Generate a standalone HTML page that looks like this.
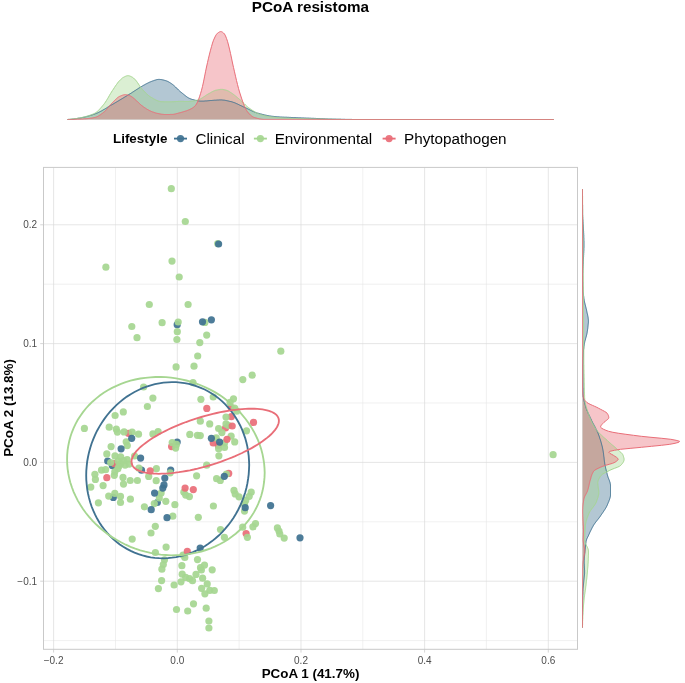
<!DOCTYPE html>
<html lang="en"><head><meta charset="utf-8"><title>PCoA resistoma</title>
<style>html,body{margin:0;padding:0;background:#fff}body{width:685px;height:683px;overflow:hidden}svg{display:block}text{font-family:"Liberation Sans",Arial,Helvetica,sans-serif}.tk{font-size:10px;fill:#4d4d4d}.b{font-weight:bold;fill:#000}.lg{font-size:15.25px;fill:#000}</style></head><body>
<svg width="685" height="683" viewBox="0 0 685 683">
<rect width="685" height="683" fill="#fff"/>
<text class="b" x="310.4" y="11.6" text-anchor="middle" font-size="15.25">PCoA resistoma</text>
<g stroke-linejoin="round" stroke-linecap="butt">
<path d="M67.5 119.5 L68.5 119.4 L69.5 119.4 L70.5 119.3 L71.5 119.2 L72.5 119.1 L73.5 119.0 L74.5 118.8 L75.5 118.7 L76.5 118.6 L77.5 118.4 L78.5 118.2 L79.5 118.1 L80.5 117.9 L81.5 117.7 L82.5 117.5 L83.5 117.3 L84.5 117.1 L85.5 116.8 L86.5 116.6 L87.5 116.3 L88.5 116.0 L89.5 115.7 L90.5 115.4 L91.5 115.1 L92.5 114.8 L93.5 114.4 L94.5 114.1 L95.5 113.7 L96.5 113.3 L97.5 112.9 L98.5 112.4 L99.5 111.9 L100.5 111.4 L101.5 110.9 L102.5 110.3 L103.5 109.7 L104.5 109.2 L105.5 108.6 L106.5 108.0 L107.5 107.3 L108.5 106.7 L109.5 106.1 L110.5 105.5 L111.5 104.9 L112.5 104.4 L113.5 103.8 L114.5 103.2 L115.5 102.6 L116.5 102.0 L117.5 101.4 L118.5 100.8 L119.5 100.2 L120.5 99.6 L121.5 99.0 L122.5 98.4 L123.5 97.8 L124.5 97.2 L125.5 96.6 L126.5 96.0 L127.5 95.3 L128.5 94.7 L129.5 94.1 L130.5 93.5 L131.5 92.9 L132.5 92.2 L133.5 91.6 L134.5 90.9 L135.5 90.3 L136.5 89.6 L137.5 89.0 L138.5 88.3 L139.5 87.7 L140.5 87.1 L141.5 86.5 L142.5 85.9 L143.5 85.3 L144.5 84.8 L145.5 84.2 L146.5 83.7 L147.5 83.2 L148.5 82.7 L149.5 82.2 L150.5 81.8 L151.5 81.4 L152.5 81.0 L153.5 80.7 L154.5 80.3 L155.5 80.0 L156.5 79.7 L157.5 79.5 L158.5 79.4 L159.5 79.4 L160.5 79.5 L161.5 79.6 L162.5 79.8 L163.5 80.0 L164.5 80.3 L165.5 80.6 L166.5 80.9 L167.5 81.3 L168.5 81.8 L169.5 82.4 L170.5 83.0 L171.5 83.7 L172.5 84.4 L173.5 85.2 L174.5 86.1 L175.5 87.0 L176.5 88.0 L177.5 89.0 L178.5 90.0 L179.5 90.9 L180.5 91.8 L181.5 92.6 L182.5 93.4 L183.5 94.2 L184.5 95.0 L185.5 95.8 L186.5 96.6 L187.5 97.3 L188.5 97.9 L189.5 98.4 L190.5 98.8 L191.5 99.2 L192.5 99.5 L193.5 99.7 L194.5 100.0 L195.5 100.3 L196.5 100.5 L197.5 100.7 L198.5 100.9 L199.5 101.0 L200.5 101.1 L201.5 101.1 L202.5 101.1 L203.5 101.1 L204.5 101.0 L205.5 100.9 L206.5 100.9 L207.5 100.8 L208.5 100.7 L209.5 100.6 L210.5 100.5 L211.5 100.5 L212.5 100.4 L213.5 100.3 L214.5 100.2 L215.5 100.2 L216.5 100.1 L217.5 100.0 L218.5 100.0 L219.5 99.9 L220.5 99.9 L221.5 99.9 L222.5 100.0 L223.5 100.1 L224.5 100.2 L225.5 100.4 L226.5 100.6 L227.5 100.8 L228.5 101.0 L229.5 101.3 L230.5 101.5 L231.5 101.7 L232.5 102.0 L233.5 102.4 L234.5 102.7 L235.5 103.1 L236.5 103.6 L237.5 104.0 L238.5 104.5 L239.5 105.0 L240.5 105.5 L241.5 105.9 L242.5 106.4 L243.5 106.9 L244.5 107.3 L245.5 107.8 L246.5 108.2 L247.5 108.7 L248.5 109.2 L249.5 109.7 L250.5 110.2 L251.5 110.7 L252.5 111.2 L253.5 111.6 L254.5 112.0 L255.5 112.4 L256.5 112.8 L257.5 113.1 L258.5 113.3 L259.5 113.6 L260.5 113.9 L261.5 114.1 L262.5 114.4 L263.5 114.6 L264.5 114.9 L265.5 115.1 L266.5 115.3 L267.5 115.5 L268.5 115.7 L269.5 115.9 L270.5 116.0 L271.5 116.2 L272.5 116.3 L273.5 116.4 L274.5 116.5 L275.5 116.6 L276.5 116.7 L277.5 116.8 L278.5 116.8 L279.5 116.9 L280.5 117.0 L281.5 117.0 L282.5 117.1 L283.5 117.1 L284.5 117.2 L285.5 117.2 L286.5 117.2 L287.5 117.3 L288.5 117.3 L289.5 117.4 L290.5 117.4 L291.5 117.5 L292.5 117.5 L293.5 117.6 L294.5 117.6 L295.5 117.6 L296.5 117.7 L297.5 117.7 L298.5 117.8 L299.5 117.8 L300.5 117.8 L301.5 117.9 L302.5 117.9 L303.5 117.9 L304.5 118.0 L305.5 118.0 L306.5 118.1 L307.5 118.1 L308.5 118.1 L309.5 118.2 L310.5 118.2 L311.5 118.3 L312.5 118.3 L313.5 118.3 L314.5 118.4 L315.5 118.4 L316.5 118.5 L317.5 118.5 L318.5 118.6 L319.5 118.6 L320.5 118.7 L321.5 118.7 L322.5 118.7 L323.5 118.8 L324.5 118.8 L325.5 118.9 L326.5 118.9 L327.5 118.9 L328.5 119.0 L329.5 119.0 L330.5 119.0 L331.5 119.0 L332.5 119.1 L333.5 119.1 L334.5 119.1 L335.5 119.1 L336.5 119.2 L337.5 119.2 L338.5 119.2 L339.5 119.2 L340.5 119.2 L341.5 119.3 L342.5 119.3 L343.5 119.3 L344.5 119.3 L345.5 119.4 L346.5 119.4 L347.5 119.4 L348.5 119.4 L349.5 119.4 L350.5 119.4 L351.5 119.4 L352.5 119.5 L353.5 119.5 L354.5 119.5 L355.5 119.5 L356.5 119.5 L357.5 119.5 L358.5 119.5 L359.5 119.5 L360.5 119.5 L361.5 119.5 L362.5 119.5 L363.5 119.5 L364.5 119.5 L365.5 119.5 L366.5 119.5 L367.5 119.5 L368.5 119.5 L369.5 119.5 L370.5 119.5 L371.5 119.5 L372.5 119.5 L373.5 119.5 L374.5 119.5 L375.5 119.5 L376.5 119.5 L377.5 119.5 L378.5 119.5 L379.5 119.5 L380.5 119.5 L381.5 119.5 L382.5 119.5 L383.5 119.5 L384.5 119.5 L385.5 119.5 L386.5 119.5 L387.5 119.5 L388.5 119.5 L389.5 119.5 L390.5 119.5 L391.5 119.5 L392.5 119.5 L393.5 119.5 L394.5 119.5 L395.5 119.5 L396.5 119.5 L397.5 119.5 L398.5 119.5 L399.5 119.5 L400.5 119.5 L401.5 119.5 L402.5 119.5 L403.5 119.5 L404.5 119.5 L405.5 119.5 L406.5 119.5 L407.5 119.5 L408.5 119.5 L409.5 119.5 L410.5 119.5 L411.5 119.5 L412.5 119.5 L413.5 119.5 L414.5 119.5 L415.5 119.5 L416.5 119.5 L417.5 119.5 L418.5 119.5 L419.5 119.5 L420.5 119.5 L421.5 119.5 L422.5 119.5 L423.5 119.5 L424.5 119.5 L425.5 119.5 L426.5 119.5 L427.5 119.5 L428.5 119.5 L429.5 119.5 L430.5 119.5 L431.5 119.5 L432.5 119.5 L433.5 119.5 L434.5 119.5 L435.5 119.5 L436.5 119.5 L437.5 119.5 L438.5 119.5 L439.5 119.5 L440.5 119.5 L441.5 119.5 L442.5 119.5 L443.5 119.5 L444.5 119.5 L445.5 119.5 L446.5 119.5 L447.5 119.5 L448.5 119.5 L449.5 119.5 L450.5 119.5 L451.5 119.5 L452.5 119.5 L453.5 119.5 L454.5 119.5 L455.5 119.5 L456.5 119.5 L457.5 119.5 L458.5 119.5 L459.5 119.5 L460.5 119.5 L461.5 119.5 L462.5 119.5 L463.5 119.5 L464.5 119.5 L465.5 119.5 L466.5 119.5 L467.5 119.5 L468.5 119.5 L469.5 119.5 L470.5 119.5 L471.5 119.5 L472.5 119.5 L473.5 119.5 L474.5 119.5 L475.5 119.5 L476.5 119.5 L477.5 119.5 L478.5 119.5 L479.5 119.5 L480.5 119.5 L481.5 119.5 L482.5 119.5 L483.5 119.5 L484.5 119.5 L485.5 119.5 L486.5 119.5 L487.5 119.5 L488.5 119.5 L489.5 119.5 L490.5 119.5 L491.5 119.5 L492.5 119.5 L493.5 119.5 L494.5 119.5 L495.5 119.5 L496.5 119.5 L497.5 119.5 L498.5 119.5 L499.5 119.5 L500.5 119.5 L501.5 119.5 L502.5 119.5 L503.5 119.5 L504.5 119.5 L505.5 119.5 L506.5 119.5 L507.5 119.5 L508.5 119.5 L509.5 119.5 L510.5 119.5 L511.5 119.5 L512.5 119.5 L513.5 119.5 L514.5 119.5 L515.5 119.5 L516.5 119.5 L517.5 119.5 L518.5 119.5 L519.5 119.5 L520.5 119.5 L521.5 119.5 L522.5 119.5 L523.5 119.5 L524.5 119.5 L525.5 119.5 L526.5 119.5 L527.5 119.5 L528.5 119.5 L529.5 119.5 L530.5 119.5 L531.5 119.5 L532.5 119.5 L533.5 119.5 L534.5 119.5 L535.5 119.5 L536.5 119.5 L537.5 119.5 L538.5 119.5 L539.5 119.5 L540.5 119.5 L541.5 119.5 L542.5 119.5 L543.5 119.5 L544.5 119.5 L545.5 119.5 L546.5 119.5 L547.5 119.5 L548.5 119.5 L549.5 119.5 L550.5 119.5 L551.5 119.5 L552.5 119.5 L553.5 119.5 L553.7 119.5 L553.7 119.5 L67.5 119.5Z" fill="#407291" fill-opacity="0.4" stroke="none"/>
<path d="M67.5 119.5 L68.5 119.4 L69.5 119.3 L70.5 119.2 L71.5 119.1 L72.5 119.0 L73.5 118.9 L74.5 118.7 L75.5 118.6 L76.5 118.5 L77.5 118.3 L78.5 118.1 L79.5 118.0 L80.5 117.8 L81.5 117.6 L82.5 117.3 L83.5 117.1 L84.5 116.9 L85.5 116.6 L86.5 116.3 L87.5 116.1 L88.5 115.8 L89.5 115.4 L90.5 115.1 L91.5 114.7 L92.5 114.3 L93.5 113.9 L94.5 113.4 L95.5 112.8 L96.5 112.1 L97.5 111.3 L98.5 110.4 L99.5 109.3 L100.5 108.2 L101.5 107.1 L102.5 105.9 L103.5 104.7 L104.5 103.4 L105.5 102.0 L106.5 100.4 L107.5 98.8 L108.5 97.1 L109.5 95.3 L110.5 93.6 L111.5 92.0 L112.5 90.4 L113.5 89.0 L114.5 87.4 L115.5 85.9 L116.5 84.5 L117.5 83.1 L118.5 81.8 L119.5 80.7 L120.5 79.7 L121.5 78.8 L122.5 77.9 L123.5 77.3 L124.5 76.8 L125.5 76.3 L126.5 75.9 L127.5 75.7 L128.5 75.7 L129.5 75.9 L130.5 76.3 L131.5 76.8 L132.5 77.3 L133.5 78.0 L134.5 79.0 L135.5 80.0 L136.5 81.2 L137.5 82.6 L138.5 84.1 L139.5 85.6 L140.5 87.1 L141.5 88.4 L142.5 89.6 L143.5 90.7 L144.5 91.7 L145.5 92.8 L146.5 93.7 L147.5 94.6 L148.5 95.5 L149.5 96.3 L150.5 96.9 L151.5 97.5 L152.5 98.1 L153.5 98.7 L154.5 99.3 L155.5 99.8 L156.5 100.3 L157.5 100.7 L158.5 101.1 L159.5 101.4 L160.5 101.6 L161.5 101.7 L162.5 101.7 L163.5 101.7 L164.5 101.8 L165.5 101.8 L166.5 101.8 L167.5 101.8 L168.5 101.8 L169.5 101.8 L170.5 101.8 L171.5 101.8 L172.5 101.7 L173.5 101.7 L174.5 101.6 L175.5 101.6 L176.5 101.5 L177.5 101.5 L178.5 101.4 L179.5 101.4 L180.5 101.4 L181.5 101.4 L182.5 101.4 L183.5 101.4 L184.5 101.5 L185.5 101.5 L186.5 101.5 L187.5 101.5 L188.5 101.5 L189.5 101.4 L190.5 101.3 L191.5 101.2 L192.5 101.1 L193.5 100.9 L194.5 100.7 L195.5 100.5 L196.5 100.3 L197.5 100.0 L198.5 99.8 L199.5 99.4 L200.5 98.9 L201.5 98.3 L202.5 97.7 L203.5 97.0 L204.5 96.4 L205.5 95.7 L206.5 95.0 L207.5 94.4 L208.5 93.8 L209.5 93.3 L210.5 92.7 L211.5 92.1 L212.5 91.6 L213.5 91.1 L214.5 90.7 L215.5 90.3 L216.5 90.1 L217.5 89.9 L218.5 89.7 L219.5 89.6 L220.5 89.4 L221.5 89.4 L222.5 89.4 L223.5 89.6 L224.5 89.8 L225.5 90.0 L226.5 90.3 L227.5 90.7 L228.5 91.1 L229.5 91.7 L230.5 92.4 L231.5 93.0 L232.5 93.7 L233.5 94.4 L234.5 95.2 L235.5 96.0 L236.5 96.8 L237.5 97.7 L238.5 98.5 L239.5 99.4 L240.5 100.2 L241.5 101.1 L242.5 102.1 L243.5 103.1 L244.5 104.0 L245.5 105.0 L246.5 105.9 L247.5 106.8 L248.5 107.6 L249.5 108.3 L250.5 109.0 L251.5 109.7 L252.5 110.4 L253.5 111.0 L254.5 111.7 L255.5 112.3 L256.5 112.8 L257.5 113.4 L258.5 113.8 L259.5 114.3 L260.5 114.6 L261.5 114.9 L262.5 115.2 L263.5 115.4 L264.5 115.7 L265.5 115.9 L266.5 116.1 L267.5 116.3 L268.5 116.5 L269.5 116.7 L270.5 116.8 L271.5 117.0 L272.5 117.1 L273.5 117.2 L274.5 117.3 L275.5 117.4 L276.5 117.5 L277.5 117.6 L278.5 117.7 L279.5 117.8 L280.5 117.8 L281.5 117.9 L282.5 117.9 L283.5 118.0 L284.5 118.1 L285.5 118.1 L286.5 118.2 L287.5 118.2 L288.5 118.2 L289.5 118.3 L290.5 118.3 L291.5 118.4 L292.5 118.4 L293.5 118.4 L294.5 118.5 L295.5 118.5 L296.5 118.5 L297.5 118.6 L298.5 118.6 L299.5 118.6 L300.5 118.7 L301.5 118.7 L302.5 118.7 L303.5 118.7 L304.5 118.8 L305.5 118.8 L306.5 118.8 L307.5 118.8 L308.5 118.9 L309.5 118.9 L310.5 118.9 L311.5 118.9 L312.5 119.0 L313.5 119.0 L314.5 119.0 L315.5 119.0 L316.5 119.0 L317.5 119.1 L318.5 119.1 L319.5 119.1 L320.5 119.1 L321.5 119.1 L322.5 119.1 L323.5 119.2 L324.5 119.2 L325.5 119.2 L326.5 119.2 L327.5 119.2 L328.5 119.3 L329.5 119.3 L330.5 119.3 L331.5 119.3 L332.5 119.3 L333.5 119.3 L334.5 119.4 L335.5 119.4 L336.5 119.4 L337.5 119.4 L338.5 119.4 L339.5 119.4 L340.5 119.4 L341.5 119.5 L342.5 119.5 L343.5 119.5 L344.5 119.5 L345.5 119.5 L346.5 119.5 L347.5 119.5 L348.5 119.5 L349.5 119.5 L350.5 119.5 L351.5 119.5 L352.5 119.5 L353.5 119.5 L354.5 119.5 L355.5 119.5 L356.5 119.5 L357.5 119.5 L358.5 119.5 L359.5 119.5 L360.5 119.5 L361.5 119.5 L362.5 119.5 L363.5 119.5 L364.5 119.5 L365.5 119.5 L366.5 119.5 L367.5 119.5 L368.5 119.5 L369.5 119.5 L370.5 119.5 L371.5 119.5 L372.5 119.5 L373.5 119.5 L374.5 119.5 L375.5 119.5 L376.5 119.5 L377.5 119.5 L378.5 119.5 L379.5 119.5 L380.5 119.5 L381.5 119.5 L382.5 119.5 L383.5 119.5 L384.5 119.5 L385.5 119.5 L386.5 119.5 L387.5 119.5 L388.5 119.5 L389.5 119.5 L390.5 119.5 L391.5 119.5 L392.5 119.5 L393.5 119.5 L394.5 119.5 L395.5 119.5 L396.5 119.5 L397.5 119.5 L398.5 119.5 L399.5 119.5 L400.5 119.5 L401.5 119.5 L402.5 119.5 L403.5 119.5 L404.5 119.5 L405.5 119.5 L406.5 119.5 L407.5 119.5 L408.5 119.5 L409.5 119.5 L410.5 119.5 L411.5 119.5 L412.5 119.5 L413.5 119.5 L414.5 119.5 L415.5 119.5 L416.5 119.5 L417.5 119.5 L418.5 119.5 L419.5 119.5 L420.5 119.5 L421.5 119.5 L422.5 119.5 L423.5 119.5 L424.5 119.5 L425.5 119.5 L426.5 119.5 L427.5 119.5 L428.5 119.5 L429.5 119.5 L430.5 119.5 L431.5 119.5 L432.5 119.5 L433.5 119.5 L434.5 119.5 L435.5 119.5 L436.5 119.5 L437.5 119.5 L438.5 119.5 L439.5 119.5 L440.5 119.5 L441.5 119.5 L442.5 119.5 L443.5 119.5 L444.5 119.5 L445.5 119.5 L446.5 119.5 L447.5 119.5 L448.5 119.5 L449.5 119.5 L450.5 119.5 L451.5 119.5 L452.5 119.5 L453.5 119.5 L454.5 119.5 L455.5 119.5 L456.5 119.5 L457.5 119.5 L458.5 119.5 L459.5 119.5 L460.5 119.5 L461.5 119.5 L462.5 119.5 L463.5 119.5 L464.5 119.5 L465.5 119.5 L466.5 119.5 L467.5 119.5 L468.5 119.5 L469.5 119.5 L470.5 119.5 L471.5 119.5 L472.5 119.5 L473.5 119.5 L474.5 119.5 L475.5 119.5 L476.5 119.5 L477.5 119.5 L478.5 119.5 L479.5 119.5 L480.5 119.5 L481.5 119.5 L482.5 119.5 L483.5 119.5 L484.5 119.5 L485.5 119.5 L486.5 119.5 L487.5 119.5 L488.5 119.5 L489.5 119.5 L490.5 119.5 L491.5 119.5 L492.5 119.5 L493.5 119.5 L494.5 119.5 L495.5 119.5 L496.5 119.5 L497.5 119.5 L498.5 119.5 L499.5 119.5 L500.5 119.5 L501.5 119.5 L502.5 119.5 L503.5 119.5 L504.5 119.5 L505.5 119.5 L506.5 119.5 L507.5 119.5 L508.5 119.5 L509.5 119.5 L510.5 119.5 L511.5 119.5 L512.5 119.5 L513.5 119.5 L514.5 119.5 L515.5 119.5 L516.5 119.5 L517.5 119.5 L518.5 119.5 L519.5 119.5 L520.5 119.5 L521.5 119.5 L522.5 119.5 L523.5 119.5 L524.5 119.5 L525.5 119.5 L526.5 119.5 L527.5 119.5 L528.5 119.5 L529.5 119.5 L530.5 119.5 L531.5 119.5 L532.5 119.5 L533.5 119.5 L534.5 119.5 L535.5 119.5 L536.5 119.5 L537.5 119.5 L538.5 119.5 L539.5 119.5 L540.5 119.5 L541.5 119.5 L542.5 119.5 L543.5 119.5 L544.5 119.5 L545.5 119.5 L546.5 119.5 L547.5 119.5 L548.5 119.5 L549.5 119.5 L550.5 119.5 L551.5 119.5 L552.5 119.5 L553.5 119.5 L553.7 119.5 L553.7 119.5 L67.5 119.5Z" fill="#a6d691" fill-opacity="0.4" stroke="none"/>
<path d="M67.5 119.5 L68.5 119.5 L69.5 119.5 L70.5 119.5 L71.5 119.5 L72.5 119.4 L73.5 119.4 L74.5 119.4 L75.5 119.3 L76.5 119.3 L77.5 119.2 L78.5 119.2 L79.5 119.1 L80.5 119.1 L81.5 119.0 L82.5 119.0 L83.5 118.9 L84.5 118.8 L85.5 118.8 L86.5 118.7 L87.5 118.6 L88.5 118.5 L89.5 118.4 L90.5 118.2 L91.5 118.1 L92.5 117.9 L93.5 117.7 L94.5 117.5 L95.5 117.3 L96.5 116.9 L97.5 116.5 L98.5 115.9 L99.5 115.3 L100.5 114.7 L101.5 113.9 L102.5 113.2 L103.5 112.4 L104.5 111.6 L105.5 110.7 L106.5 109.6 L107.5 108.4 L108.5 107.2 L109.5 106.0 L110.5 104.8 L111.5 103.6 L112.5 102.6 L113.5 101.6 L114.5 100.6 L115.5 99.6 L116.5 98.6 L117.5 97.7 L118.5 97.0 L119.5 96.4 L120.5 96.0 L121.5 95.6 L122.5 95.2 L123.5 94.9 L124.5 94.7 L125.5 94.7 L126.5 94.8 L127.5 95.0 L128.5 95.3 L129.5 95.6 L130.5 96.0 L131.5 96.6 L132.5 97.3 L133.5 98.1 L134.5 98.9 L135.5 99.8 L136.5 100.7 L137.5 101.7 L138.5 102.7 L139.5 103.6 L140.5 104.5 L141.5 105.4 L142.5 106.1 L143.5 106.9 L144.5 107.6 L145.5 108.2 L146.5 108.9 L147.5 109.5 L148.5 110.0 L149.5 110.6 L150.5 111.0 L151.5 111.5 L152.5 111.9 L153.5 112.2 L154.5 112.6 L155.5 112.9 L156.5 113.2 L157.5 113.4 L158.5 113.6 L159.5 113.8 L160.5 114.0 L161.5 114.2 L162.5 114.3 L163.5 114.4 L164.5 114.5 L165.5 114.5 L166.5 114.5 L167.5 114.5 L168.5 114.5 L169.5 114.5 L170.5 114.4 L171.5 114.4 L172.5 114.4 L173.5 114.3 L174.5 114.1 L175.5 113.9 L176.5 113.6 L177.5 113.4 L178.5 113.1 L179.5 112.8 L180.5 112.6 L181.5 112.3 L182.5 112.0 L183.5 111.7 L184.5 111.4 L185.5 111.1 L186.5 110.8 L187.5 110.4 L188.5 110.0 L189.5 109.6 L190.5 109.1 L191.5 108.6 L192.5 108.0 L193.5 107.3 L194.5 106.5 L195.5 105.4 L196.5 104.0 L197.5 102.1 L198.5 99.7 L199.5 96.8 L200.5 93.7 L201.5 90.3 L202.5 86.4 L203.5 81.9 L204.5 76.9 L205.5 71.8 L206.5 67.0 L207.5 62.6 L208.5 58.2 L209.5 54.1 L210.5 50.2 L211.5 46.6 L212.5 43.1 L213.5 40.2 L214.5 38.0 L215.5 35.9 L216.5 34.3 L217.5 33.2 L218.5 32.5 L219.5 31.9 L220.5 31.6 L221.5 31.7 L222.5 32.2 L223.5 33.0 L224.5 34.0 L225.5 35.9 L226.5 38.4 L227.5 41.3 L228.5 45.0 L229.5 49.1 L230.5 53.4 L231.5 58.1 L232.5 63.0 L233.5 67.4 L234.5 71.8 L235.5 76.2 L236.5 80.5 L237.5 84.5 L238.5 88.4 L239.5 91.9 L240.5 95.0 L241.5 98.1 L242.5 101.1 L243.5 103.8 L244.5 106.4 L245.5 108.6 L246.5 110.4 L247.5 111.8 L248.5 113.0 L249.5 114.1 L250.5 115.1 L251.5 115.9 L252.5 116.6 L253.5 117.2 L254.5 117.5 L255.5 117.8 L256.5 118.1 L257.5 118.4 L258.5 118.6 L259.5 118.9 L260.5 119.0 L261.5 119.2 L262.5 119.3 L263.5 119.4 L264.5 119.4 L265.5 119.4 L266.5 119.4 L267.5 119.4 L268.5 119.4 L269.5 119.4 L270.5 119.4 L271.5 119.4 L272.5 119.4 L273.5 119.4 L274.5 119.4 L275.5 119.4 L276.5 119.4 L277.5 119.4 L278.5 119.4 L279.5 119.4 L280.5 119.4 L281.5 119.4 L282.5 119.4 L283.5 119.4 L284.5 119.4 L285.5 119.4 L286.5 119.4 L287.5 119.4 L288.5 119.4 L289.5 119.4 L290.5 119.4 L291.5 119.4 L292.5 119.4 L293.5 119.4 L294.5 119.4 L295.5 119.4 L296.5 119.4 L297.5 119.4 L298.5 119.4 L299.5 119.4 L300.5 119.4 L301.5 119.4 L302.5 119.4 L303.5 119.4 L304.5 119.4 L305.5 119.4 L306.5 119.4 L307.5 119.4 L308.5 119.4 L309.5 119.4 L310.5 119.4 L311.5 119.4 L312.5 119.4 L313.5 119.4 L314.5 119.4 L315.5 119.4 L316.5 119.4 L317.5 119.4 L318.5 119.4 L319.5 119.4 L320.5 119.4 L321.5 119.4 L322.5 119.4 L323.5 119.4 L324.5 119.4 L325.5 119.4 L326.5 119.4 L327.5 119.5 L328.5 119.5 L329.5 119.5 L330.5 119.5 L331.5 119.5 L332.5 119.5 L333.5 119.5 L334.5 119.5 L335.5 119.5 L336.5 119.5 L337.5 119.5 L338.5 119.5 L339.5 119.5 L340.5 119.5 L341.5 119.5 L342.5 119.5 L343.5 119.5 L344.5 119.5 L345.5 119.5 L346.5 119.5 L347.5 119.5 L348.5 119.5 L349.5 119.5 L350.5 119.5 L351.5 119.5 L352.5 119.5 L353.5 119.5 L354.5 119.5 L355.5 119.5 L356.5 119.5 L357.5 119.5 L358.5 119.5 L359.5 119.5 L360.5 119.5 L361.5 119.5 L362.5 119.5 L363.5 119.5 L364.5 119.5 L365.5 119.5 L366.5 119.5 L367.5 119.5 L368.5 119.5 L369.5 119.5 L370.5 119.5 L371.5 119.5 L372.5 119.5 L373.5 119.5 L374.5 119.5 L375.5 119.5 L376.5 119.5 L377.5 119.5 L378.5 119.5 L379.5 119.5 L380.5 119.5 L381.5 119.5 L382.5 119.5 L383.5 119.5 L384.5 119.5 L385.5 119.5 L386.5 119.5 L387.5 119.5 L388.5 119.5 L389.5 119.5 L390.5 119.5 L391.5 119.5 L392.5 119.5 L393.5 119.5 L394.5 119.5 L395.5 119.5 L396.5 119.5 L397.5 119.5 L398.5 119.5 L399.5 119.5 L400.5 119.5 L401.5 119.5 L402.5 119.5 L403.5 119.5 L404.5 119.5 L405.5 119.5 L406.5 119.5 L407.5 119.5 L408.5 119.5 L409.5 119.5 L410.5 119.5 L411.5 119.5 L412.5 119.5 L413.5 119.5 L414.5 119.5 L415.5 119.5 L416.5 119.5 L417.5 119.5 L418.5 119.5 L419.5 119.5 L420.5 119.5 L421.5 119.5 L422.5 119.5 L423.5 119.5 L424.5 119.5 L425.5 119.5 L426.5 119.5 L427.5 119.5 L428.5 119.5 L429.5 119.5 L430.5 119.5 L431.5 119.5 L432.5 119.5 L433.5 119.5 L434.5 119.5 L435.5 119.5 L436.5 119.5 L437.5 119.5 L438.5 119.5 L439.5 119.5 L440.5 119.5 L441.5 119.5 L442.5 119.5 L443.5 119.5 L444.5 119.5 L445.5 119.5 L446.5 119.5 L447.5 119.5 L448.5 119.5 L449.5 119.5 L450.5 119.5 L451.5 119.5 L452.5 119.5 L453.5 119.5 L454.5 119.5 L455.5 119.5 L456.5 119.5 L457.5 119.5 L458.5 119.5 L459.5 119.5 L460.5 119.5 L461.5 119.5 L462.5 119.5 L463.5 119.5 L464.5 119.5 L465.5 119.5 L466.5 119.5 L467.5 119.5 L468.5 119.5 L469.5 119.5 L470.5 119.5 L471.5 119.5 L472.5 119.5 L473.5 119.5 L474.5 119.5 L475.5 119.5 L476.5 119.5 L477.5 119.5 L478.5 119.5 L479.5 119.5 L480.5 119.5 L481.5 119.5 L482.5 119.5 L483.5 119.5 L484.5 119.5 L485.5 119.5 L486.5 119.5 L487.5 119.5 L488.5 119.5 L489.5 119.5 L490.5 119.5 L491.5 119.5 L492.5 119.5 L493.5 119.5 L494.5 119.5 L495.5 119.5 L496.5 119.5 L497.5 119.5 L498.5 119.5 L499.5 119.5 L500.5 119.5 L501.5 119.5 L502.5 119.5 L503.5 119.5 L504.5 119.5 L505.5 119.5 L506.5 119.5 L507.5 119.5 L508.5 119.5 L509.5 119.5 L510.5 119.5 L511.5 119.5 L512.5 119.5 L513.5 119.5 L514.5 119.5 L515.5 119.5 L516.5 119.5 L517.5 119.5 L518.5 119.5 L519.5 119.5 L520.5 119.5 L521.5 119.5 L522.5 119.5 L523.5 119.5 L524.5 119.5 L525.5 119.5 L526.5 119.5 L527.5 119.5 L528.5 119.5 L529.5 119.5 L530.5 119.5 L531.5 119.5 L532.5 119.5 L533.5 119.5 L534.5 119.5 L535.5 119.5 L536.5 119.5 L537.5 119.5 L538.5 119.5 L539.5 119.5 L540.5 119.5 L541.5 119.5 L542.5 119.5 L543.5 119.5 L544.5 119.5 L545.5 119.5 L546.5 119.5 L547.5 119.5 L548.5 119.5 L549.5 119.5 L550.5 119.5 L551.5 119.5 L552.5 119.5 L553.5 119.5 L553.7 119.5 L553.7 119.5 L67.5 119.5Z" fill="#e96e78" fill-opacity="0.4" stroke="none"/>
<path d="M67.5 119.5 L68.5 119.4 L69.5 119.4 L70.5 119.3 L71.5 119.2 L72.5 119.1 L73.5 119.0 L74.5 118.8 L75.5 118.7 L76.5 118.6 L77.5 118.4 L78.5 118.2 L79.5 118.1 L80.5 117.9 L81.5 117.7 L82.5 117.5 L83.5 117.3 L84.5 117.1 L85.5 116.8 L86.5 116.6 L87.5 116.3 L88.5 116.0 L89.5 115.7 L90.5 115.4 L91.5 115.1 L92.5 114.8 L93.5 114.4 L94.5 114.1 L95.5 113.7 L96.5 113.3 L97.5 112.9 L98.5 112.4 L99.5 111.9 L100.5 111.4 L101.5 110.9 L102.5 110.3 L103.5 109.7 L104.5 109.2 L105.5 108.6 L106.5 108.0 L107.5 107.3 L108.5 106.7 L109.5 106.1 L110.5 105.5 L111.5 104.9 L112.5 104.4 L113.5 103.8 L114.5 103.2 L115.5 102.6 L116.5 102.0 L117.5 101.4 L118.5 100.8 L119.5 100.2 L120.5 99.6 L121.5 99.0 L122.5 98.4 L123.5 97.8 L124.5 97.2 L125.5 96.6 L126.5 96.0 L127.5 95.3 L128.5 94.7 L129.5 94.1 L130.5 93.5 L131.5 92.9 L132.5 92.2 L133.5 91.6 L134.5 90.9 L135.5 90.3 L136.5 89.6 L137.5 89.0 L138.5 88.3 L139.5 87.7 L140.5 87.1 L141.5 86.5 L142.5 85.9 L143.5 85.3 L144.5 84.8 L145.5 84.2 L146.5 83.7 L147.5 83.2 L148.5 82.7 L149.5 82.2 L150.5 81.8 L151.5 81.4 L152.5 81.0 L153.5 80.7 L154.5 80.3 L155.5 80.0 L156.5 79.7 L157.5 79.5 L158.5 79.4 L159.5 79.4 L160.5 79.5 L161.5 79.6 L162.5 79.8 L163.5 80.0 L164.5 80.3 L165.5 80.6 L166.5 80.9 L167.5 81.3 L168.5 81.8 L169.5 82.4 L170.5 83.0 L171.5 83.7 L172.5 84.4 L173.5 85.2 L174.5 86.1 L175.5 87.0 L176.5 88.0 L177.5 89.0 L178.5 90.0 L179.5 90.9 L180.5 91.8 L181.5 92.6 L182.5 93.4 L183.5 94.2 L184.5 95.0 L185.5 95.8 L186.5 96.6 L187.5 97.3 L188.5 97.9 L189.5 98.4 L190.5 98.8 L191.5 99.2 L192.5 99.5 L193.5 99.7 L194.5 100.0 L195.5 100.3 L196.5 100.5 L197.5 100.7 L198.5 100.9 L199.5 101.0 L200.5 101.1 L201.5 101.1 L202.5 101.1 L203.5 101.1 L204.5 101.0 L205.5 100.9 L206.5 100.9 L207.5 100.8 L208.5 100.7 L209.5 100.6 L210.5 100.5 L211.5 100.5 L212.5 100.4 L213.5 100.3 L214.5 100.2 L215.5 100.2 L216.5 100.1 L217.5 100.0 L218.5 100.0 L219.5 99.9 L220.5 99.9 L221.5 99.9 L222.5 100.0 L223.5 100.1 L224.5 100.2 L225.5 100.4 L226.5 100.6 L227.5 100.8 L228.5 101.0 L229.5 101.3 L230.5 101.5 L231.5 101.7 L232.5 102.0 L233.5 102.4 L234.5 102.7 L235.5 103.1 L236.5 103.6 L237.5 104.0 L238.5 104.5 L239.5 105.0 L240.5 105.5 L241.5 105.9 L242.5 106.4 L243.5 106.9 L244.5 107.3 L245.5 107.8 L246.5 108.2 L247.5 108.7 L248.5 109.2 L249.5 109.7 L250.5 110.2 L251.5 110.7 L252.5 111.2 L253.5 111.6 L254.5 112.0 L255.5 112.4 L256.5 112.8 L257.5 113.1 L258.5 113.3 L259.5 113.6 L260.5 113.9 L261.5 114.1 L262.5 114.4 L263.5 114.6 L264.5 114.9 L265.5 115.1 L266.5 115.3 L267.5 115.5 L268.5 115.7 L269.5 115.9 L270.5 116.0 L271.5 116.2 L272.5 116.3 L273.5 116.4 L274.5 116.5 L275.5 116.6 L276.5 116.7 L277.5 116.8 L278.5 116.8 L279.5 116.9 L280.5 117.0 L281.5 117.0 L282.5 117.1 L283.5 117.1 L284.5 117.2 L285.5 117.2 L286.5 117.2 L287.5 117.3 L288.5 117.3 L289.5 117.4 L290.5 117.4 L291.5 117.5 L292.5 117.5 L293.5 117.6 L294.5 117.6 L295.5 117.6 L296.5 117.7 L297.5 117.7 L298.5 117.8 L299.5 117.8 L300.5 117.8 L301.5 117.9 L302.5 117.9 L303.5 117.9 L304.5 118.0 L305.5 118.0 L306.5 118.1 L307.5 118.1 L308.5 118.1 L309.5 118.2 L310.5 118.2 L311.5 118.3 L312.5 118.3 L313.5 118.3 L314.5 118.4 L315.5 118.4 L316.5 118.5 L317.5 118.5 L318.5 118.6 L319.5 118.6 L320.5 118.7 L321.5 118.7 L322.5 118.7 L323.5 118.8 L324.5 118.8 L325.5 118.9 L326.5 118.9 L327.5 118.9 L328.5 119.0 L329.5 119.0 L330.5 119.0 L331.5 119.0 L332.5 119.1 L333.5 119.1 L334.5 119.1 L335.5 119.1 L336.5 119.2 L337.5 119.2 L338.5 119.2 L339.5 119.2 L340.5 119.2 L341.5 119.3 L342.5 119.3 L343.5 119.3 L344.5 119.3 L345.5 119.4 L346.5 119.4 L347.5 119.4 L348.5 119.4 L349.5 119.4 L350.5 119.4 L351.5 119.4 L352.5 119.5 L353.5 119.5 L354.5 119.5 L355.5 119.5 L356.5 119.5 L357.5 119.5 L358.5 119.5 L359.5 119.5 L360.5 119.5 L361.5 119.5 L362.5 119.5 L363.5 119.5 L364.5 119.5 L365.5 119.5 L366.5 119.5 L367.5 119.5 L368.5 119.5 L369.5 119.5 L370.5 119.5 L371.5 119.5 L372.5 119.5 L373.5 119.5 L374.5 119.5 L375.5 119.5 L376.5 119.5 L377.5 119.5 L378.5 119.5 L379.5 119.5 L380.5 119.5 L381.5 119.5 L382.5 119.5 L383.5 119.5 L384.5 119.5 L385.5 119.5 L386.5 119.5 L387.5 119.5 L388.5 119.5 L389.5 119.5 L390.5 119.5 L391.5 119.5 L392.5 119.5 L393.5 119.5 L394.5 119.5 L395.5 119.5 L396.5 119.5 L397.5 119.5 L398.5 119.5 L399.5 119.5 L400.5 119.5 L401.5 119.5 L402.5 119.5 L403.5 119.5 L404.5 119.5 L405.5 119.5 L406.5 119.5 L407.5 119.5 L408.5 119.5 L409.5 119.5 L410.5 119.5 L411.5 119.5 L412.5 119.5 L413.5 119.5 L414.5 119.5 L415.5 119.5 L416.5 119.5 L417.5 119.5 L418.5 119.5 L419.5 119.5 L420.5 119.5 L421.5 119.5 L422.5 119.5 L423.5 119.5 L424.5 119.5 L425.5 119.5 L426.5 119.5 L427.5 119.5 L428.5 119.5 L429.5 119.5 L430.5 119.5 L431.5 119.5 L432.5 119.5 L433.5 119.5 L434.5 119.5 L435.5 119.5 L436.5 119.5 L437.5 119.5 L438.5 119.5 L439.5 119.5 L440.5 119.5 L441.5 119.5 L442.5 119.5 L443.5 119.5 L444.5 119.5 L445.5 119.5 L446.5 119.5 L447.5 119.5 L448.5 119.5 L449.5 119.5 L450.5 119.5 L451.5 119.5 L452.5 119.5 L453.5 119.5 L454.5 119.5 L455.5 119.5 L456.5 119.5 L457.5 119.5 L458.5 119.5 L459.5 119.5 L460.5 119.5 L461.5 119.5 L462.5 119.5 L463.5 119.5 L464.5 119.5 L465.5 119.5 L466.5 119.5 L467.5 119.5 L468.5 119.5 L469.5 119.5 L470.5 119.5 L471.5 119.5 L472.5 119.5 L473.5 119.5 L474.5 119.5 L475.5 119.5 L476.5 119.5 L477.5 119.5 L478.5 119.5 L479.5 119.5 L480.5 119.5 L481.5 119.5 L482.5 119.5 L483.5 119.5 L484.5 119.5 L485.5 119.5 L486.5 119.5 L487.5 119.5 L488.5 119.5 L489.5 119.5 L490.5 119.5 L491.5 119.5 L492.5 119.5 L493.5 119.5 L494.5 119.5 L495.5 119.5 L496.5 119.5 L497.5 119.5 L498.5 119.5 L499.5 119.5 L500.5 119.5 L501.5 119.5 L502.5 119.5 L503.5 119.5 L504.5 119.5 L505.5 119.5 L506.5 119.5 L507.5 119.5 L508.5 119.5 L509.5 119.5 L510.5 119.5 L511.5 119.5 L512.5 119.5 L513.5 119.5 L514.5 119.5 L515.5 119.5 L516.5 119.5 L517.5 119.5 L518.5 119.5 L519.5 119.5 L520.5 119.5 L521.5 119.5 L522.5 119.5 L523.5 119.5 L524.5 119.5 L525.5 119.5 L526.5 119.5 L527.5 119.5 L528.5 119.5 L529.5 119.5 L530.5 119.5 L531.5 119.5 L532.5 119.5 L533.5 119.5 L534.5 119.5 L535.5 119.5 L536.5 119.5 L537.5 119.5 L538.5 119.5 L539.5 119.5 L540.5 119.5 L541.5 119.5 L542.5 119.5 L543.5 119.5 L544.5 119.5 L545.5 119.5 L546.5 119.5 L547.5 119.5 L548.5 119.5 L549.5 119.5 L550.5 119.5 L551.5 119.5 L552.5 119.5 L553.5 119.5 L553.7 119.5" fill="none" stroke="#407291" stroke-width="1.0"/>
<path d="M67.5 119.5 L68.5 119.4 L69.5 119.3 L70.5 119.2 L71.5 119.1 L72.5 119.0 L73.5 118.9 L74.5 118.7 L75.5 118.6 L76.5 118.5 L77.5 118.3 L78.5 118.1 L79.5 118.0 L80.5 117.8 L81.5 117.6 L82.5 117.3 L83.5 117.1 L84.5 116.9 L85.5 116.6 L86.5 116.3 L87.5 116.1 L88.5 115.8 L89.5 115.4 L90.5 115.1 L91.5 114.7 L92.5 114.3 L93.5 113.9 L94.5 113.4 L95.5 112.8 L96.5 112.1 L97.5 111.3 L98.5 110.4 L99.5 109.3 L100.5 108.2 L101.5 107.1 L102.5 105.9 L103.5 104.7 L104.5 103.4 L105.5 102.0 L106.5 100.4 L107.5 98.8 L108.5 97.1 L109.5 95.3 L110.5 93.6 L111.5 92.0 L112.5 90.4 L113.5 89.0 L114.5 87.4 L115.5 85.9 L116.5 84.5 L117.5 83.1 L118.5 81.8 L119.5 80.7 L120.5 79.7 L121.5 78.8 L122.5 77.9 L123.5 77.3 L124.5 76.8 L125.5 76.3 L126.5 75.9 L127.5 75.7 L128.5 75.7 L129.5 75.9 L130.5 76.3 L131.5 76.8 L132.5 77.3 L133.5 78.0 L134.5 79.0 L135.5 80.0 L136.5 81.2 L137.5 82.6 L138.5 84.1 L139.5 85.6 L140.5 87.1 L141.5 88.4 L142.5 89.6 L143.5 90.7 L144.5 91.7 L145.5 92.8 L146.5 93.7 L147.5 94.6 L148.5 95.5 L149.5 96.3 L150.5 96.9 L151.5 97.5 L152.5 98.1 L153.5 98.7 L154.5 99.3 L155.5 99.8 L156.5 100.3 L157.5 100.7 L158.5 101.1 L159.5 101.4 L160.5 101.6 L161.5 101.7 L162.5 101.7 L163.5 101.7 L164.5 101.8 L165.5 101.8 L166.5 101.8 L167.5 101.8 L168.5 101.8 L169.5 101.8 L170.5 101.8 L171.5 101.8 L172.5 101.7 L173.5 101.7 L174.5 101.6 L175.5 101.6 L176.5 101.5 L177.5 101.5 L178.5 101.4 L179.5 101.4 L180.5 101.4 L181.5 101.4 L182.5 101.4 L183.5 101.4 L184.5 101.5 L185.5 101.5 L186.5 101.5 L187.5 101.5 L188.5 101.5 L189.5 101.4 L190.5 101.3 L191.5 101.2 L192.5 101.1 L193.5 100.9 L194.5 100.7 L195.5 100.5 L196.5 100.3 L197.5 100.0 L198.5 99.8 L199.5 99.4 L200.5 98.9 L201.5 98.3 L202.5 97.7 L203.5 97.0 L204.5 96.4 L205.5 95.7 L206.5 95.0 L207.5 94.4 L208.5 93.8 L209.5 93.3 L210.5 92.7 L211.5 92.1 L212.5 91.6 L213.5 91.1 L214.5 90.7 L215.5 90.3 L216.5 90.1 L217.5 89.9 L218.5 89.7 L219.5 89.6 L220.5 89.4 L221.5 89.4 L222.5 89.4 L223.5 89.6 L224.5 89.8 L225.5 90.0 L226.5 90.3 L227.5 90.7 L228.5 91.1 L229.5 91.7 L230.5 92.4 L231.5 93.0 L232.5 93.7 L233.5 94.4 L234.5 95.2 L235.5 96.0 L236.5 96.8 L237.5 97.7 L238.5 98.5 L239.5 99.4 L240.5 100.2 L241.5 101.1 L242.5 102.1 L243.5 103.1 L244.5 104.0 L245.5 105.0 L246.5 105.9 L247.5 106.8 L248.5 107.6 L249.5 108.3 L250.5 109.0 L251.5 109.7 L252.5 110.4 L253.5 111.0 L254.5 111.7 L255.5 112.3 L256.5 112.8 L257.5 113.4 L258.5 113.8 L259.5 114.3 L260.5 114.6 L261.5 114.9 L262.5 115.2 L263.5 115.4 L264.5 115.7 L265.5 115.9 L266.5 116.1 L267.5 116.3 L268.5 116.5 L269.5 116.7 L270.5 116.8 L271.5 117.0 L272.5 117.1 L273.5 117.2 L274.5 117.3 L275.5 117.4 L276.5 117.5 L277.5 117.6 L278.5 117.7 L279.5 117.8 L280.5 117.8 L281.5 117.9 L282.5 117.9 L283.5 118.0 L284.5 118.1 L285.5 118.1 L286.5 118.2 L287.5 118.2 L288.5 118.2 L289.5 118.3 L290.5 118.3 L291.5 118.4 L292.5 118.4 L293.5 118.4 L294.5 118.5 L295.5 118.5 L296.5 118.5 L297.5 118.6 L298.5 118.6 L299.5 118.6 L300.5 118.7 L301.5 118.7 L302.5 118.7 L303.5 118.7 L304.5 118.8 L305.5 118.8 L306.5 118.8 L307.5 118.8 L308.5 118.9 L309.5 118.9 L310.5 118.9 L311.5 118.9 L312.5 119.0 L313.5 119.0 L314.5 119.0 L315.5 119.0 L316.5 119.0 L317.5 119.1 L318.5 119.1 L319.5 119.1 L320.5 119.1 L321.5 119.1 L322.5 119.1 L323.5 119.2 L324.5 119.2 L325.5 119.2 L326.5 119.2 L327.5 119.2 L328.5 119.3 L329.5 119.3 L330.5 119.3 L331.5 119.3 L332.5 119.3 L333.5 119.3 L334.5 119.4 L335.5 119.4 L336.5 119.4 L337.5 119.4 L338.5 119.4 L339.5 119.4 L340.5 119.4 L341.5 119.5 L342.5 119.5 L343.5 119.5 L344.5 119.5 L345.5 119.5 L346.5 119.5 L347.5 119.5 L348.5 119.5 L349.5 119.5 L350.5 119.5 L351.5 119.5 L352.5 119.5 L353.5 119.5 L354.5 119.5 L355.5 119.5 L356.5 119.5 L357.5 119.5 L358.5 119.5 L359.5 119.5 L360.5 119.5 L361.5 119.5 L362.5 119.5 L363.5 119.5 L364.5 119.5 L365.5 119.5 L366.5 119.5 L367.5 119.5 L368.5 119.5 L369.5 119.5 L370.5 119.5 L371.5 119.5 L372.5 119.5 L373.5 119.5 L374.5 119.5 L375.5 119.5 L376.5 119.5 L377.5 119.5 L378.5 119.5 L379.5 119.5 L380.5 119.5 L381.5 119.5 L382.5 119.5 L383.5 119.5 L384.5 119.5 L385.5 119.5 L386.5 119.5 L387.5 119.5 L388.5 119.5 L389.5 119.5 L390.5 119.5 L391.5 119.5 L392.5 119.5 L393.5 119.5 L394.5 119.5 L395.5 119.5 L396.5 119.5 L397.5 119.5 L398.5 119.5 L399.5 119.5 L400.5 119.5 L401.5 119.5 L402.5 119.5 L403.5 119.5 L404.5 119.5 L405.5 119.5 L406.5 119.5 L407.5 119.5 L408.5 119.5 L409.5 119.5 L410.5 119.5 L411.5 119.5 L412.5 119.5 L413.5 119.5 L414.5 119.5 L415.5 119.5 L416.5 119.5 L417.5 119.5 L418.5 119.5 L419.5 119.5 L420.5 119.5 L421.5 119.5 L422.5 119.5 L423.5 119.5 L424.5 119.5 L425.5 119.5 L426.5 119.5 L427.5 119.5 L428.5 119.5 L429.5 119.5 L430.5 119.5 L431.5 119.5 L432.5 119.5 L433.5 119.5 L434.5 119.5 L435.5 119.5 L436.5 119.5 L437.5 119.5 L438.5 119.5 L439.5 119.5 L440.5 119.5 L441.5 119.5 L442.5 119.5 L443.5 119.5 L444.5 119.5 L445.5 119.5 L446.5 119.5 L447.5 119.5 L448.5 119.5 L449.5 119.5 L450.5 119.5 L451.5 119.5 L452.5 119.5 L453.5 119.5 L454.5 119.5 L455.5 119.5 L456.5 119.5 L457.5 119.5 L458.5 119.5 L459.5 119.5 L460.5 119.5 L461.5 119.5 L462.5 119.5 L463.5 119.5 L464.5 119.5 L465.5 119.5 L466.5 119.5 L467.5 119.5 L468.5 119.5 L469.5 119.5 L470.5 119.5 L471.5 119.5 L472.5 119.5 L473.5 119.5 L474.5 119.5 L475.5 119.5 L476.5 119.5 L477.5 119.5 L478.5 119.5 L479.5 119.5 L480.5 119.5 L481.5 119.5 L482.5 119.5 L483.5 119.5 L484.5 119.5 L485.5 119.5 L486.5 119.5 L487.5 119.5 L488.5 119.5 L489.5 119.5 L490.5 119.5 L491.5 119.5 L492.5 119.5 L493.5 119.5 L494.5 119.5 L495.5 119.5 L496.5 119.5 L497.5 119.5 L498.5 119.5 L499.5 119.5 L500.5 119.5 L501.5 119.5 L502.5 119.5 L503.5 119.5 L504.5 119.5 L505.5 119.5 L506.5 119.5 L507.5 119.5 L508.5 119.5 L509.5 119.5 L510.5 119.5 L511.5 119.5 L512.5 119.5 L513.5 119.5 L514.5 119.5 L515.5 119.5 L516.5 119.5 L517.5 119.5 L518.5 119.5 L519.5 119.5 L520.5 119.5 L521.5 119.5 L522.5 119.5 L523.5 119.5 L524.5 119.5 L525.5 119.5 L526.5 119.5 L527.5 119.5 L528.5 119.5 L529.5 119.5 L530.5 119.5 L531.5 119.5 L532.5 119.5 L533.5 119.5 L534.5 119.5 L535.5 119.5 L536.5 119.5 L537.5 119.5 L538.5 119.5 L539.5 119.5 L540.5 119.5 L541.5 119.5 L542.5 119.5 L543.5 119.5 L544.5 119.5 L545.5 119.5 L546.5 119.5 L547.5 119.5 L548.5 119.5 L549.5 119.5 L550.5 119.5 L551.5 119.5 L552.5 119.5 L553.5 119.5 L553.7 119.5" fill="none" stroke="#a6d691" stroke-width="1.0"/>
<path d="M67.5 119.5 L68.5 119.5 L69.5 119.5 L70.5 119.5 L71.5 119.5 L72.5 119.4 L73.5 119.4 L74.5 119.4 L75.5 119.3 L76.5 119.3 L77.5 119.2 L78.5 119.2 L79.5 119.1 L80.5 119.1 L81.5 119.0 L82.5 119.0 L83.5 118.9 L84.5 118.8 L85.5 118.8 L86.5 118.7 L87.5 118.6 L88.5 118.5 L89.5 118.4 L90.5 118.2 L91.5 118.1 L92.5 117.9 L93.5 117.7 L94.5 117.5 L95.5 117.3 L96.5 116.9 L97.5 116.5 L98.5 115.9 L99.5 115.3 L100.5 114.7 L101.5 113.9 L102.5 113.2 L103.5 112.4 L104.5 111.6 L105.5 110.7 L106.5 109.6 L107.5 108.4 L108.5 107.2 L109.5 106.0 L110.5 104.8 L111.5 103.6 L112.5 102.6 L113.5 101.6 L114.5 100.6 L115.5 99.6 L116.5 98.6 L117.5 97.7 L118.5 97.0 L119.5 96.4 L120.5 96.0 L121.5 95.6 L122.5 95.2 L123.5 94.9 L124.5 94.7 L125.5 94.7 L126.5 94.8 L127.5 95.0 L128.5 95.3 L129.5 95.6 L130.5 96.0 L131.5 96.6 L132.5 97.3 L133.5 98.1 L134.5 98.9 L135.5 99.8 L136.5 100.7 L137.5 101.7 L138.5 102.7 L139.5 103.6 L140.5 104.5 L141.5 105.4 L142.5 106.1 L143.5 106.9 L144.5 107.6 L145.5 108.2 L146.5 108.9 L147.5 109.5 L148.5 110.0 L149.5 110.6 L150.5 111.0 L151.5 111.5 L152.5 111.9 L153.5 112.2 L154.5 112.6 L155.5 112.9 L156.5 113.2 L157.5 113.4 L158.5 113.6 L159.5 113.8 L160.5 114.0 L161.5 114.2 L162.5 114.3 L163.5 114.4 L164.5 114.5 L165.5 114.5 L166.5 114.5 L167.5 114.5 L168.5 114.5 L169.5 114.5 L170.5 114.4 L171.5 114.4 L172.5 114.4 L173.5 114.3 L174.5 114.1 L175.5 113.9 L176.5 113.6 L177.5 113.4 L178.5 113.1 L179.5 112.8 L180.5 112.6 L181.5 112.3 L182.5 112.0 L183.5 111.7 L184.5 111.4 L185.5 111.1 L186.5 110.8 L187.5 110.4 L188.5 110.0 L189.5 109.6 L190.5 109.1 L191.5 108.6 L192.5 108.0 L193.5 107.3 L194.5 106.5 L195.5 105.4 L196.5 104.0 L197.5 102.1 L198.5 99.7 L199.5 96.8 L200.5 93.7 L201.5 90.3 L202.5 86.4 L203.5 81.9 L204.5 76.9 L205.5 71.8 L206.5 67.0 L207.5 62.6 L208.5 58.2 L209.5 54.1 L210.5 50.2 L211.5 46.6 L212.5 43.1 L213.5 40.2 L214.5 38.0 L215.5 35.9 L216.5 34.3 L217.5 33.2 L218.5 32.5 L219.5 31.9 L220.5 31.6 L221.5 31.7 L222.5 32.2 L223.5 33.0 L224.5 34.0 L225.5 35.9 L226.5 38.4 L227.5 41.3 L228.5 45.0 L229.5 49.1 L230.5 53.4 L231.5 58.1 L232.5 63.0 L233.5 67.4 L234.5 71.8 L235.5 76.2 L236.5 80.5 L237.5 84.5 L238.5 88.4 L239.5 91.9 L240.5 95.0 L241.5 98.1 L242.5 101.1 L243.5 103.8 L244.5 106.4 L245.5 108.6 L246.5 110.4 L247.5 111.8 L248.5 113.0 L249.5 114.1 L250.5 115.1 L251.5 115.9 L252.5 116.6 L253.5 117.2 L254.5 117.5 L255.5 117.8 L256.5 118.1 L257.5 118.4 L258.5 118.6 L259.5 118.9 L260.5 119.0 L261.5 119.2 L262.5 119.3 L263.5 119.4 L264.5 119.4 L265.5 119.4 L266.5 119.4 L267.5 119.4 L268.5 119.4 L269.5 119.4 L270.5 119.4 L271.5 119.4 L272.5 119.4 L273.5 119.4 L274.5 119.4 L275.5 119.4 L276.5 119.4 L277.5 119.4 L278.5 119.4 L279.5 119.4 L280.5 119.4 L281.5 119.4 L282.5 119.4 L283.5 119.4 L284.5 119.4 L285.5 119.4 L286.5 119.4 L287.5 119.4 L288.5 119.4 L289.5 119.4 L290.5 119.4 L291.5 119.4 L292.5 119.4 L293.5 119.4 L294.5 119.4 L295.5 119.4 L296.5 119.4 L297.5 119.4 L298.5 119.4 L299.5 119.4 L300.5 119.4 L301.5 119.4 L302.5 119.4 L303.5 119.4 L304.5 119.4 L305.5 119.4 L306.5 119.4 L307.5 119.4 L308.5 119.4 L309.5 119.4 L310.5 119.4 L311.5 119.4 L312.5 119.4 L313.5 119.4 L314.5 119.4 L315.5 119.4 L316.5 119.4 L317.5 119.4 L318.5 119.4 L319.5 119.4 L320.5 119.4 L321.5 119.4 L322.5 119.4 L323.5 119.4 L324.5 119.4 L325.5 119.4 L326.5 119.4 L327.5 119.5 L328.5 119.5 L329.5 119.5 L330.5 119.5 L331.5 119.5 L332.5 119.5 L333.5 119.5 L334.5 119.5 L335.5 119.5 L336.5 119.5 L337.5 119.5 L338.5 119.5 L339.5 119.5 L340.5 119.5 L341.5 119.5 L342.5 119.5 L343.5 119.5 L344.5 119.5 L345.5 119.5 L346.5 119.5 L347.5 119.5 L348.5 119.5 L349.5 119.5 L350.5 119.5 L351.5 119.5 L352.5 119.5 L353.5 119.5 L354.5 119.5 L355.5 119.5 L356.5 119.5 L357.5 119.5 L358.5 119.5 L359.5 119.5 L360.5 119.5 L361.5 119.5 L362.5 119.5 L363.5 119.5 L364.5 119.5 L365.5 119.5 L366.5 119.5 L367.5 119.5 L368.5 119.5 L369.5 119.5 L370.5 119.5 L371.5 119.5 L372.5 119.5 L373.5 119.5 L374.5 119.5 L375.5 119.5 L376.5 119.5 L377.5 119.5 L378.5 119.5 L379.5 119.5 L380.5 119.5 L381.5 119.5 L382.5 119.5 L383.5 119.5 L384.5 119.5 L385.5 119.5 L386.5 119.5 L387.5 119.5 L388.5 119.5 L389.5 119.5 L390.5 119.5 L391.5 119.5 L392.5 119.5 L393.5 119.5 L394.5 119.5 L395.5 119.5 L396.5 119.5 L397.5 119.5 L398.5 119.5 L399.5 119.5 L400.5 119.5 L401.5 119.5 L402.5 119.5 L403.5 119.5 L404.5 119.5 L405.5 119.5 L406.5 119.5 L407.5 119.5 L408.5 119.5 L409.5 119.5 L410.5 119.5 L411.5 119.5 L412.5 119.5 L413.5 119.5 L414.5 119.5 L415.5 119.5 L416.5 119.5 L417.5 119.5 L418.5 119.5 L419.5 119.5 L420.5 119.5 L421.5 119.5 L422.5 119.5 L423.5 119.5 L424.5 119.5 L425.5 119.5 L426.5 119.5 L427.5 119.5 L428.5 119.5 L429.5 119.5 L430.5 119.5 L431.5 119.5 L432.5 119.5 L433.5 119.5 L434.5 119.5 L435.5 119.5 L436.5 119.5 L437.5 119.5 L438.5 119.5 L439.5 119.5 L440.5 119.5 L441.5 119.5 L442.5 119.5 L443.5 119.5 L444.5 119.5 L445.5 119.5 L446.5 119.5 L447.5 119.5 L448.5 119.5 L449.5 119.5 L450.5 119.5 L451.5 119.5 L452.5 119.5 L453.5 119.5 L454.5 119.5 L455.5 119.5 L456.5 119.5 L457.5 119.5 L458.5 119.5 L459.5 119.5 L460.5 119.5 L461.5 119.5 L462.5 119.5 L463.5 119.5 L464.5 119.5 L465.5 119.5 L466.5 119.5 L467.5 119.5 L468.5 119.5 L469.5 119.5 L470.5 119.5 L471.5 119.5 L472.5 119.5 L473.5 119.5 L474.5 119.5 L475.5 119.5 L476.5 119.5 L477.5 119.5 L478.5 119.5 L479.5 119.5 L480.5 119.5 L481.5 119.5 L482.5 119.5 L483.5 119.5 L484.5 119.5 L485.5 119.5 L486.5 119.5 L487.5 119.5 L488.5 119.5 L489.5 119.5 L490.5 119.5 L491.5 119.5 L492.5 119.5 L493.5 119.5 L494.5 119.5 L495.5 119.5 L496.5 119.5 L497.5 119.5 L498.5 119.5 L499.5 119.5 L500.5 119.5 L501.5 119.5 L502.5 119.5 L503.5 119.5 L504.5 119.5 L505.5 119.5 L506.5 119.5 L507.5 119.5 L508.5 119.5 L509.5 119.5 L510.5 119.5 L511.5 119.5 L512.5 119.5 L513.5 119.5 L514.5 119.5 L515.5 119.5 L516.5 119.5 L517.5 119.5 L518.5 119.5 L519.5 119.5 L520.5 119.5 L521.5 119.5 L522.5 119.5 L523.5 119.5 L524.5 119.5 L525.5 119.5 L526.5 119.5 L527.5 119.5 L528.5 119.5 L529.5 119.5 L530.5 119.5 L531.5 119.5 L532.5 119.5 L533.5 119.5 L534.5 119.5 L535.5 119.5 L536.5 119.5 L537.5 119.5 L538.5 119.5 L539.5 119.5 L540.5 119.5 L541.5 119.5 L542.5 119.5 L543.5 119.5 L544.5 119.5 L545.5 119.5 L546.5 119.5 L547.5 119.5 L548.5 119.5 L549.5 119.5 L550.5 119.5 L551.5 119.5 L552.5 119.5 L553.5 119.5 L553.7 119.5" fill="none" stroke="#e96e78" stroke-width="1.0"/>
</g>
<text class="b" x="113.0" y="143.4" font-size="13.4">Lifestyle</text>
<line x1="174.0" y1="138.6" x2="187.0" y2="138.6" stroke="#407291" stroke-width="1.85"/>
<circle cx="180.5" cy="138.6" r="3.6" fill="#407291" fill-opacity="0.93"/>
<text class="lg" x="195.4" y="143.8">Clinical</text>
<line x1="253.89999999999998" y1="138.6" x2="266.9" y2="138.6" stroke="#a6d691" stroke-width="1.85"/>
<circle cx="260.4" cy="138.6" r="3.6" fill="#a6d691" fill-opacity="0.93"/>
<text class="lg" x="274.7" y="143.8">Environmental</text>
<line x1="382.6" y1="138.6" x2="395.6" y2="138.6" stroke="#e96e78" stroke-width="1.85"/>
<circle cx="389.1" cy="138.6" r="3.6" fill="#e96e78" fill-opacity="0.93"/>
<text class="lg" x="404.0" y="143.8">Phytopathogen</text>
<rect x="43.5" y="167.4" width="534.0" height="481.9" fill="#fff"/>
<g stroke="#e6e6e6" stroke-width="0.6">
<line x1="115.5" y1="167.4" x2="115.5" y2="649.3"/>
<line x1="239.1" y1="167.4" x2="239.1" y2="649.3"/>
<line x1="362.8" y1="167.4" x2="362.8" y2="649.3"/>
<line x1="486.4" y1="167.4" x2="486.4" y2="649.3"/>
<line x1="43.5" y1="640.6" x2="577.5" y2="640.6"/>
<line x1="43.5" y1="521.8" x2="577.5" y2="521.8"/>
<line x1="43.5" y1="403.0" x2="577.5" y2="403.0"/>
<line x1="43.5" y1="284.2" x2="577.5" y2="284.2"/>
</g>
<g stroke="#dbdbdb" stroke-width="0.7">
<line x1="53.6" y1="167.4" x2="53.6" y2="649.3"/>
<line x1="177.3" y1="167.4" x2="177.3" y2="649.3"/>
<line x1="301.0" y1="167.4" x2="301.0" y2="649.3"/>
<line x1="424.6" y1="167.4" x2="424.6" y2="649.3"/>
<line x1="548.3" y1="167.4" x2="548.3" y2="649.3"/>
<line x1="43.5" y1="581.2" x2="577.5" y2="581.2"/>
<line x1="43.5" y1="462.4" x2="577.5" y2="462.4"/>
<line x1="43.5" y1="343.6" x2="577.5" y2="343.6"/>
<line x1="43.5" y1="224.8" x2="577.5" y2="224.8"/>
</g>
<g fill-opacity="0.93">
<g fill="#407291"><circle cx="177.2" cy="324.7" r="3.6"/><circle cx="107.7" cy="461" r="3.6"/><circle cx="112.3" cy="465.6" r="3.6"/><circle cx="141.5" cy="470.2" r="3.6"/><circle cx="113.3" cy="497.4" r="3.6"/><circle cx="177.2" cy="442" r="3.6"/><circle cx="170.7" cy="470.1" r="3.6"/><circle cx="157.3" cy="502.5" r="3.6"/></g>
<g fill="#e96e78"><circle cx="128.5" cy="433.3" r="3.6"/><circle cx="114.3" cy="463.6" r="3.6"/><circle cx="213.2" cy="443" r="3.6"/><circle cx="171.6" cy="446.6" r="3.6"/><circle cx="231.1" cy="407.5" r="3.6"/><circle cx="231.4" cy="416.6" r="3.6"/><circle cx="225.5" cy="428" r="3.6"/><circle cx="218.3" cy="445.5" r="3.6"/><circle cx="228.7" cy="473.4" r="3.6"/><circle cx="246.1" cy="533.6" r="3.6"/></g>
<g fill="#a6d691"><circle cx="171.3" cy="188.7" r="3.6"/><circle cx="185.3" cy="221.5" r="3.6"/><circle cx="217.7" cy="243.6" r="3.6"/><circle cx="172" cy="261.1" r="3.6"/><circle cx="105.9" cy="267.2" r="3.6"/><circle cx="179.2" cy="277" r="3.6"/><circle cx="149.3" cy="304.5" r="3.6"/><circle cx="188.1" cy="304.5" r="3.6"/><circle cx="204.9" cy="322.4" r="3.6"/><circle cx="162.1" cy="322.7" r="3.6"/><circle cx="178.2" cy="322" r="3.6"/><circle cx="131.8" cy="326.5" r="3.6"/><circle cx="177.3" cy="331.7" r="3.6"/><circle cx="137" cy="337.7" r="3.6"/><circle cx="176.9" cy="339.5" r="3.6"/><circle cx="206.7" cy="335.1" r="3.6"/><circle cx="199.8" cy="342.6" r="3.6"/><circle cx="197.7" cy="356" r="3.6"/><circle cx="176.1" cy="366.9" r="3.6"/><circle cx="194" cy="366.2" r="3.6"/><circle cx="280.8" cy="351.2" r="3.6"/><circle cx="252.2" cy="375.2" r="3.6"/><circle cx="242.8" cy="379.6" r="3.6"/><circle cx="193" cy="382.6" r="3.6"/><circle cx="143.6" cy="387" r="3.6"/><circle cx="147.4" cy="406.5" r="3.6"/><circle cx="123.3" cy="411.9" r="3.6"/><circle cx="115.1" cy="415.5" r="3.6"/><circle cx="84.4" cy="428.4" r="3.6"/><circle cx="109.2" cy="427.2" r="3.6"/><circle cx="116.3" cy="429.2" r="3.6"/><circle cx="117.4" cy="432.1" r="3.6"/><circle cx="124.1" cy="431.9" r="3.6"/><circle cx="132.1" cy="432.1" r="3.6"/><circle cx="138.5" cy="434.2" r="3.6"/><circle cx="126.2" cy="441.8" r="3.6"/><circle cx="127.3" cy="445.6" r="3.6"/><circle cx="111.1" cy="446.6" r="3.6"/><circle cx="106.8" cy="453.9" r="3.6"/><circle cx="115" cy="455.9" r="3.6"/><circle cx="120.7" cy="456.8" r="3.6"/><circle cx="134.6" cy="456" r="3.6"/><circle cx="127.2" cy="459.5" r="3.6"/><circle cx="110.7" cy="462.5" r="3.6"/><circle cx="121" cy="463.6" r="3.6"/><circle cx="125.1" cy="465.1" r="3.6"/><circle cx="129.2" cy="464.1" r="3.6"/><circle cx="117.9" cy="468.7" r="3.6"/><circle cx="114.8" cy="471.8" r="3.6"/><circle cx="101.5" cy="470.2" r="3.6"/><circle cx="105.6" cy="469.7" r="3.6"/><circle cx="138.9" cy="468.2" r="3.6"/><circle cx="94.9" cy="474.3" r="3.6"/><circle cx="95.4" cy="479.4" r="3.6"/><circle cx="114.3" cy="475.3" r="3.6"/><circle cx="123" cy="477.4" r="3.6"/><circle cx="130.2" cy="480.5" r="3.6"/><circle cx="137.4" cy="480.5" r="3.6"/><circle cx="123.5" cy="484.1" r="3.6"/><circle cx="103.1" cy="485.6" r="3.6"/><circle cx="90.8" cy="487.1" r="3.6"/><circle cx="148.7" cy="476.4" r="3.6"/><circle cx="114.8" cy="493.3" r="3.6"/><circle cx="108.7" cy="496.1" r="3.6"/><circle cx="120.5" cy="496.4" r="3.6"/><circle cx="120.5" cy="502.5" r="3.6"/><circle cx="130.4" cy="499.2" r="3.6"/><circle cx="98.4" cy="502.8" r="3.6"/><circle cx="144.4" cy="506.8" r="3.6"/><circle cx="118.2" cy="461.0" r="3.6"/><circle cx="119.0" cy="466.0" r="3.6"/><circle cx="123.5" cy="460.5" r="3.6"/><circle cx="152.9" cy="398.1" r="3.6"/><circle cx="200.9" cy="399.3" r="3.6"/><circle cx="213.2" cy="397" r="3.6"/><circle cx="200.3" cy="421.2" r="3.6"/><circle cx="209.7" cy="423.9" r="3.6"/><circle cx="218.6" cy="428.5" r="3.6"/><circle cx="152.9" cy="433.9" r="3.6"/><circle cx="158.1" cy="431.5" r="3.6"/><circle cx="189.8" cy="434.4" r="3.6"/><circle cx="197.4" cy="435.3" r="3.6"/><circle cx="200.3" cy="435.6" r="3.6"/><circle cx="216.2" cy="437.8" r="3.6"/><circle cx="172.2" cy="442.6" r="3.6"/><circle cx="176.5" cy="444.4" r="3.6"/><circle cx="175.7" cy="448.1" r="3.6"/><circle cx="218.6" cy="448.7" r="3.6"/><circle cx="218.9" cy="455.8" r="3.6"/><circle cx="206.7" cy="465.2" r="3.6"/><circle cx="156.4" cy="468.7" r="3.6"/><circle cx="170.2" cy="472.8" r="3.6"/><circle cx="196.6" cy="475.8" r="3.6"/><circle cx="156.2" cy="480.7" r="3.6"/><circle cx="216.6" cy="478.7" r="3.6"/><circle cx="220.3" cy="480.4" r="3.6"/><circle cx="161.1" cy="493.1" r="3.6"/><circle cx="183.9" cy="492.2" r="3.6"/><circle cx="185.7" cy="495.1" r="3.6"/><circle cx="189.4" cy="496.6" r="3.6"/><circle cx="159.3" cy="498" r="3.6"/><circle cx="154.3" cy="503.6" r="3.6"/><circle cx="165.8" cy="501.3" r="3.6"/><circle cx="174.9" cy="504.7" r="3.6"/><circle cx="213.4" cy="506" r="3.6"/><circle cx="172.8" cy="516.2" r="3.6"/><circle cx="198.3" cy="517.3" r="3.6"/><circle cx="155.3" cy="526.3" r="3.6"/><circle cx="220.5" cy="529.5" r="3.6"/><circle cx="233.5" cy="398.8" r="3.6"/><circle cx="230.1" cy="402.4" r="3.6"/><circle cx="234.7" cy="408.1" r="3.6"/><circle cx="236.8" cy="411.1" r="3.6"/><circle cx="226" cy="417" r="3.6"/><circle cx="226" cy="423.9" r="3.6"/><circle cx="228.6" cy="425.5" r="3.6"/><circle cx="221.9" cy="432.6" r="3.6"/><circle cx="246.5" cy="430.8" r="3.6"/><circle cx="231.1" cy="436.2" r="3.6"/><circle cx="234.7" cy="441.9" r="3.6"/><circle cx="224.5" cy="442.9" r="3.6"/><circle cx="224.5" cy="447.5" r="3.6"/><circle cx="226.4" cy="474" r="3.6"/><circle cx="234" cy="490.4" r="3.6"/><circle cx="235.2" cy="493.9" r="3.6"/><circle cx="239" cy="496.8" r="3.6"/><circle cx="251.2" cy="492.2" r="3.6"/><circle cx="249.2" cy="496.3" r="3.6"/><circle cx="245.7" cy="500.4" r="3.6"/><circle cx="244.5" cy="503.9" r="3.6"/><circle cx="244.5" cy="511.1" r="3.6"/><circle cx="255.5" cy="523.6" r="3.6"/><circle cx="252.9" cy="526.8" r="3.6"/><circle cx="242.7" cy="527.2" r="3.6"/><circle cx="277.4" cy="527.9" r="3.6"/><circle cx="132.2" cy="539.1" r="3.6"/><circle cx="151" cy="533" r="3.6"/><circle cx="166.1" cy="547.1" r="3.6"/><circle cx="155.4" cy="552.5" r="3.6"/><circle cx="183" cy="555" r="3.6"/><circle cx="184.8" cy="557.5" r="3.6"/><circle cx="164.5" cy="559.8" r="3.6"/><circle cx="163.3" cy="564.5" r="3.6"/><circle cx="161.9" cy="569.2" r="3.6"/><circle cx="181.9" cy="565.7" r="3.6"/><circle cx="197.5" cy="559.6" r="3.6"/><circle cx="200.5" cy="567.7" r="3.6"/><circle cx="201.4" cy="570" r="3.6"/><circle cx="204.5" cy="565.1" r="3.6"/><circle cx="212.2" cy="569.8" r="3.6"/><circle cx="182.2" cy="574.2" r="3.6"/><circle cx="196" cy="574.4" r="3.6"/><circle cx="185.7" cy="577.4" r="3.6"/><circle cx="189.6" cy="578.6" r="3.6"/><circle cx="192.5" cy="580.7" r="3.6"/><circle cx="181" cy="581.8" r="3.6"/><circle cx="202.6" cy="578.2" r="3.6"/><circle cx="161.6" cy="580.6" r="3.6"/><circle cx="174.1" cy="585" r="3.6"/><circle cx="158.4" cy="588.6" r="3.6"/><circle cx="207.2" cy="583.9" r="3.6"/><circle cx="201.6" cy="588.3" r="3.6"/><circle cx="209.8" cy="590.3" r="3.6"/><circle cx="214.3" cy="590.5" r="3.6"/><circle cx="204.9" cy="593.8" r="3.6"/><circle cx="193.5" cy="603.8" r="3.6"/><circle cx="176.5" cy="609.5" r="3.6"/><circle cx="187.7" cy="611" r="3.6"/><circle cx="206.2" cy="608.2" r="3.6"/><circle cx="208.9" cy="621" r="3.6"/><circle cx="208.9" cy="628" r="3.6"/><circle cx="224.4" cy="537.3" r="3.6"/><circle cx="247.4" cy="537.3" r="3.6"/><circle cx="279" cy="531" r="3.6"/><circle cx="279.8" cy="534" r="3.6"/><circle cx="284.2" cy="538.1" r="3.6"/><circle cx="553.1" cy="454.7" r="3.6"/></g>
<g fill="#407291"><circle cx="218.6" cy="244" r="3.6"/><circle cx="211.4" cy="319.8" r="3.6"/><circle cx="202.5" cy="321.8" r="3.6"/><circle cx="131.7" cy="438.3" r="3.6"/><circle cx="121.1" cy="448.8" r="3.6"/><circle cx="140.6" cy="458.1" r="3.6"/><circle cx="151.2" cy="509.7" r="3.6"/><circle cx="211.4" cy="438.3" r="3.6"/><circle cx="219.6" cy="442.1" r="3.6"/><circle cx="164.8" cy="478.1" r="3.6"/><circle cx="164" cy="484.9" r="3.6"/><circle cx="162.8" cy="488.1" r="3.6"/><circle cx="154.6" cy="493.1" r="3.6"/><circle cx="167" cy="517.7" r="3.6"/><circle cx="224.3" cy="476.3" r="3.6"/><circle cx="245.2" cy="507.7" r="3.6"/><circle cx="270.6" cy="505.6" r="3.6"/><circle cx="200.2" cy="548.1" r="3.6"/><circle cx="300" cy="537.8" r="3.6"/></g>
<g fill="#e96e78"><circle cx="106.8" cy="477.7" r="3.6"/><circle cx="150.2" cy="470.8" r="3.6"/><circle cx="206.8" cy="408.4" r="3.6"/><circle cx="185.1" cy="488.1" r="3.6"/><circle cx="193.3" cy="489.6" r="3.6"/><circle cx="253.5" cy="422.4" r="3.6"/><circle cx="232.2" cy="426" r="3.6"/><circle cx="227" cy="439.3" r="3.6"/><circle cx="187.3" cy="551.4" r="3.6"/></g>
</g>
<path d="M249.2 465.0 L249.0 469.6 L248.7 474.3 L248.1 478.9 L247.4 483.4 L246.4 488.0 L245.2 492.5 L243.7 496.9 L242.1 501.2 L240.3 505.5 L238.2 509.7 L236.0 513.8 L233.6 517.7 L231.0 521.5 L228.2 525.2 L225.3 528.7 L222.2 532.1 L219.0 535.3 L215.6 538.3 L212.1 541.1 L208.4 543.8 L204.7 546.2 L200.8 548.4 L196.9 550.4 L192.9 552.2 L188.8 553.8 L184.6 555.1 L180.4 556.2 L176.2 557.1 L171.9 557.7 L167.7 558.1 L163.4 558.3 L159.2 558.2 L154.9 557.8 L150.7 557.3 L146.6 556.5 L142.5 555.4 L138.5 554.1 L134.5 552.6 L130.7 550.9 L126.9 548.9 L123.3 546.7 L119.8 544.4 L116.4 541.8 L113.2 539.0 L110.1 536.0 L107.1 532.9 L104.4 529.5 L101.8 526.1 L99.4 522.4 L97.1 518.6 L95.1 514.7 L93.3 510.7 L91.6 506.5 L90.2 502.3 L89.0 497.9 L88.0 493.5 L87.2 489.0 L86.7 484.5 L86.3 480.0 L86.2 475.4 L86.3 470.8 L86.7 466.1 L87.2 461.5 L88.0 457.0 L89.0 452.4 L90.2 447.9 L91.6 443.5 L93.3 439.2 L95.1 434.9 L97.1 430.7 L99.4 426.6 L101.8 422.7 L104.4 418.9 L107.1 415.2 L110.1 411.7 L113.2 408.3 L116.4 405.1 L119.8 402.1 L123.3 399.3 L126.9 396.6 L130.7 394.2 L134.5 392.0 L138.5 390.0 L142.5 388.2 L146.6 386.6 L150.7 385.3 L154.9 384.2 L159.2 383.3 L163.4 382.7 L167.7 382.3 L171.9 382.1 L176.2 382.2 L180.4 382.6 L184.6 383.1 L188.8 383.9 L192.9 385.0 L196.9 386.3 L200.8 387.8 L204.7 389.5 L208.4 391.5 L212.1 393.7 L215.6 396.0 L219.0 398.6 L222.2 401.4 L225.3 404.4 L228.2 407.5 L231.0 410.9 L233.6 414.3 L236.0 418.0 L238.2 421.8 L240.3 425.7 L242.1 429.7 L243.7 433.9 L245.2 438.1 L246.4 442.5 L247.4 446.9 L248.1 451.4 L248.7 455.9 L249.0 460.4Z" fill="none" stroke="#407291" stroke-width="1.85"/>
<path d="M264.7 472.7 L264.5 477.4 L264.1 482.0 L263.4 486.6 L262.5 491.1 L261.3 495.5 L259.8 499.9 L258.1 504.2 L256.1 508.3 L253.9 512.4 L251.4 516.3 L248.7 520.1 L245.8 523.7 L242.6 527.2 L239.3 530.5 L235.7 533.7 L232.0 536.6 L228.0 539.4 L223.9 542.0 L219.7 544.3 L215.3 546.4 L210.7 548.4 L206.0 550.0 L201.3 551.5 L196.4 552.7 L191.4 553.7 L186.4 554.5 L181.3 555.0 L176.2 555.2 L171.0 555.3 L165.9 555.0 L160.7 554.6 L155.5 553.9 L150.4 552.9 L145.3 551.7 L140.3 550.3 L135.3 548.6 L130.5 546.8 L125.7 544.7 L121.0 542.3 L116.5 539.8 L112.1 537.1 L107.8 534.2 L103.7 531.1 L99.8 527.8 L96.0 524.3 L92.4 520.7 L89.1 516.9 L85.9 513.0 L83.0 509.0 L80.3 504.8 L77.8 500.6 L75.6 496.2 L73.6 491.8 L71.9 487.3 L70.4 482.7 L69.2 478.1 L68.3 473.5 L67.6 468.8 L67.2 464.2 L67.1 459.5 L67.2 454.9 L67.6 450.2 L68.3 445.7 L69.2 441.2 L70.4 436.7 L71.9 432.3 L73.6 428.1 L75.6 423.9 L77.8 419.8 L80.3 415.9 L83.0 412.1 L85.9 408.5 L89.1 405.0 L92.4 401.7 L96.0 398.6 L99.8 395.6 L103.7 392.8 L107.8 390.3 L112.1 387.9 L116.5 385.8 L121.0 383.9 L125.7 382.2 L130.5 380.7 L135.3 379.5 L140.3 378.5 L145.3 377.8 L150.4 377.3 L155.5 377.0 L160.7 377.0 L165.9 377.2 L171.0 377.7 L176.2 378.4 L181.3 379.3 L186.4 380.5 L191.4 381.9 L196.4 383.6 L201.3 385.5 L206.0 387.6 L210.7 389.9 L215.3 392.4 L219.7 395.1 L223.9 398.1 L228.0 401.2 L232.0 404.5 L235.7 407.9 L239.3 411.5 L242.6 415.3 L245.8 419.2 L248.7 423.2 L251.4 427.4 L253.9 431.7 L256.1 436.0 L258.1 440.4 L259.8 444.9 L261.3 449.5 L262.5 454.1 L263.4 458.8 L264.1 463.4 L264.5 468.1Z" fill="none" stroke="#a6d691" stroke-width="1.85"/>
<path d="M278.9 420.8 L278.8 422.1 L278.5 423.5 L278.0 425.0 L277.3 426.5 L276.4 428.0 L275.3 429.6 L274.0 431.2 L272.5 432.9 L270.9 434.5 L269.0 436.2 L267.0 437.9 L264.8 439.6 L262.5 441.3 L260.0 443.0 L257.3 444.7 L254.5 446.4 L251.6 448.1 L248.5 449.7 L245.3 451.3 L242.1 453.0 L238.7 454.5 L235.2 456.1 L231.6 457.6 L228.0 459.0 L224.3 460.4 L220.5 461.8 L216.7 463.1 L212.9 464.3 L209.1 465.5 L205.2 466.6 L201.3 467.6 L197.5 468.6 L193.7 469.5 L189.9 470.3 L186.1 471.0 L182.4 471.6 L178.8 472.2 L175.2 472.7 L171.7 473.1 L168.3 473.4 L165.1 473.6 L161.9 473.7 L158.8 473.8 L155.9 473.7 L153.1 473.6 L150.4 473.4 L147.9 473.1 L145.6 472.7 L143.4 472.2 L141.4 471.6 L139.5 471.0 L137.9 470.2 L136.4 469.4 L135.1 468.5 L134.0 467.5 L133.1 466.5 L132.4 465.4 L131.9 464.2 L131.6 463.0 L131.5 461.7 L131.6 460.3 L131.9 458.9 L132.4 457.5 L133.1 456.0 L134.0 454.4 L135.1 452.8 L136.4 451.2 L137.9 449.6 L139.5 447.9 L141.4 446.3 L143.4 444.6 L145.6 442.9 L147.9 441.2 L150.4 439.5 L153.1 437.8 L155.9 436.1 L158.8 434.4 L161.9 432.7 L165.1 431.1 L168.3 429.5 L171.7 427.9 L175.2 426.4 L178.8 424.9 L182.4 423.4 L186.1 422.0 L189.9 420.7 L193.7 419.4 L197.5 418.2 L201.3 417.0 L205.2 415.9 L209.1 414.9 L212.9 413.9 L216.7 413.0 L220.5 412.2 L224.3 411.5 L228.0 410.8 L231.6 410.2 L235.2 409.8 L238.7 409.4 L242.1 409.1 L245.3 408.8 L248.5 408.7 L251.6 408.7 L254.5 408.7 L257.3 408.9 L260.0 409.1 L262.5 409.4 L264.8 409.8 L267.0 410.3 L269.0 410.9 L270.9 411.5 L272.5 412.2 L274.0 413.1 L275.3 414.0 L276.4 414.9 L277.3 416.0 L278.0 417.1 L278.5 418.2 L278.8 419.5Z" fill="none" stroke="#e96e78" stroke-width="1.85"/>
<rect x="43.5" y="167.4" width="534.0" height="481.9" fill="none" stroke="#c9c9c9" stroke-width="1"/>
<g stroke="#c4c4c4" stroke-width="0.7">
<line x1="53.6" y1="649.3" x2="53.6" y2="652.5999999999999"/>
<line x1="177.3" y1="649.3" x2="177.3" y2="652.5999999999999"/>
<line x1="301.0" y1="649.3" x2="301.0" y2="652.5999999999999"/>
<line x1="424.6" y1="649.3" x2="424.6" y2="652.5999999999999"/>
<line x1="548.3" y1="649.3" x2="548.3" y2="652.5999999999999"/>
<line x1="40.2" y1="581.2" x2="43.5" y2="581.2"/>
<line x1="40.2" y1="462.4" x2="43.5" y2="462.4"/>
<line x1="40.2" y1="343.6" x2="43.5" y2="343.6"/>
<line x1="40.2" y1="224.8" x2="43.5" y2="224.8"/>
</g>
<text class="tk" x="53.6" y="664.0" text-anchor="middle">−0.2</text>
<text class="tk" x="177.3" y="664.0" text-anchor="middle">0.0</text>
<text class="tk" x="301.0" y="664.0" text-anchor="middle">0.2</text>
<text class="tk" x="424.6" y="664.0" text-anchor="middle">0.4</text>
<text class="tk" x="548.3" y="664.0" text-anchor="middle">0.6</text>
<text class="tk" x="37.1" y="584.8" text-anchor="end">−0.1</text>
<text class="tk" x="37.1" y="466.0" text-anchor="end">0.0</text>
<text class="tk" x="37.1" y="347.2" text-anchor="end">0.1</text>
<text class="tk" x="37.1" y="228.4" text-anchor="end">0.2</text>
<text class="b" x="310.5" y="678" text-anchor="middle" font-size="13.4">PCoA 1 (41.7%)</text>
<text class="b" transform="translate(13.0 408) rotate(-90)" text-anchor="middle" font-size="13.4">PCoA 2 (13.8%)</text>
<g stroke-linejoin="round">
<path d="M582.5 189.3 L582.5 190.3 L582.5 191.3 L582.5 192.3 L582.5 193.3 L582.5 194.3 L582.5 195.3 L582.5 196.3 L582.5 197.3 L582.5 198.3 L582.5 199.3 L582.5 200.3 L582.5 201.3 L582.5 202.3 L582.5 203.3 L582.5 204.3 L582.6 205.3 L582.6 206.3 L582.6 207.3 L582.6 208.3 L582.6 209.3 L582.6 210.3 L582.6 211.3 L582.6 212.3 L582.6 213.3 L582.6 214.3 L582.7 215.3 L582.7 216.3 L582.8 217.3 L582.8 218.3 L582.9 219.3 L583.0 220.3 L583.0 221.3 L583.1 222.3 L583.1 223.3 L583.2 224.3 L583.3 225.3 L583.3 226.3 L583.4 227.3 L583.4 228.3 L583.5 229.3 L583.5 230.3 L583.6 231.3 L583.6 232.3 L583.7 233.3 L583.7 234.3 L583.8 235.3 L583.8 236.3 L583.8 237.3 L583.9 238.3 L583.9 239.3 L583.9 240.3 L584.0 241.3 L584.0 242.3 L584.0 243.3 L584.0 244.3 L584.0 245.3 L584.0 246.3 L584.0 247.3 L583.9 248.3 L583.9 249.3 L583.9 250.3 L583.8 251.3 L583.8 252.3 L583.7 253.3 L583.7 254.3 L583.6 255.3 L583.6 256.3 L583.5 257.3 L583.5 258.3 L583.4 259.3 L583.4 260.3 L583.3 261.3 L583.3 262.3 L583.3 263.3 L583.2 264.3 L583.2 265.3 L583.1 266.3 L583.1 267.3 L583.0 268.3 L583.0 269.3 L582.9 270.3 L582.9 271.3 L582.9 272.3 L582.8 273.3 L582.8 274.3 L582.8 275.3 L582.8 276.3 L582.8 277.3 L582.8 278.3 L582.8 279.3 L582.8 280.3 L582.8 281.3 L582.9 282.3 L582.9 283.3 L582.9 284.3 L582.9 285.3 L582.9 286.3 L583.0 287.3 L583.0 288.3 L583.0 289.3 L583.1 290.3 L583.1 291.3 L583.2 292.3 L583.3 293.3 L583.4 294.3 L583.5 295.3 L583.7 296.3 L583.8 297.3 L583.9 298.3 L584.1 299.3 L584.2 300.3 L584.4 301.3 L584.6 302.3 L584.9 303.3 L585.1 304.3 L585.4 305.3 L585.6 306.3 L585.9 307.3 L586.1 308.3 L586.4 309.3 L586.6 310.3 L586.8 311.3 L587.0 312.3 L587.2 313.3 L587.5 314.3 L587.7 315.3 L587.9 316.3 L588.1 317.3 L588.2 318.3 L588.3 319.3 L588.4 320.3 L588.4 321.3 L588.4 322.3 L588.3 323.3 L588.2 324.3 L588.1 325.3 L588.0 326.3 L587.9 327.3 L587.8 328.3 L587.6 329.3 L587.5 330.3 L587.3 331.3 L587.2 332.3 L587.0 333.3 L586.8 334.3 L586.5 335.3 L586.3 336.3 L586.0 337.3 L585.7 338.3 L585.5 339.3 L585.2 340.3 L584.9 341.3 L584.7 342.3 L584.5 343.3 L584.3 344.3 L584.2 345.3 L584.0 346.3 L583.9 347.3 L583.8 348.3 L583.6 349.3 L583.5 350.3 L583.5 351.3 L583.4 352.3 L583.4 353.3 L583.3 354.3 L583.3 355.3 L583.3 356.3 L583.2 357.3 L583.2 358.3 L583.2 359.3 L583.1 360.3 L583.1 361.3 L583.1 362.3 L583.1 363.3 L583.0 364.3 L583.0 365.3 L583.0 366.3 L583.0 367.3 L583.0 368.3 L583.0 369.3 L583.0 370.3 L583.0 371.3 L583.0 372.3 L583.0 373.3 L583.0 374.3 L583.0 375.3 L583.0 376.3 L583.0 377.3 L583.0 378.3 L583.0 379.3 L583.0 380.3 L583.0 381.3 L583.0 382.3 L583.0 383.3 L583.0 384.3 L583.0 385.3 L583.0 386.3 L583.0 387.3 L583.1 388.3 L583.1 389.3 L583.1 390.3 L583.1 391.3 L583.1 392.3 L583.1 393.3 L583.1 394.3 L583.2 395.3 L583.2 396.3 L583.4 397.3 L583.5 398.3 L583.7 399.3 L584.0 400.3 L584.2 401.3 L584.5 402.3 L584.7 403.3 L585.0 404.3 L585.3 405.3 L585.5 406.3 L585.8 407.3 L586.2 408.3 L586.5 409.3 L586.9 410.3 L587.4 411.3 L587.8 412.3 L588.2 413.3 L588.7 414.3 L589.2 415.3 L589.7 416.3 L590.1 417.3 L590.6 418.3 L591.1 419.3 L591.5 420.3 L592.0 421.3 L592.5 422.3 L593.0 423.3 L593.6 424.3 L594.1 425.3 L594.7 426.3 L595.2 427.3 L595.7 428.3 L596.2 429.3 L596.7 430.3 L597.2 431.3 L597.7 432.3 L598.1 433.3 L598.4 434.3 L598.8 435.3 L599.2 436.3 L599.5 437.3 L599.8 438.3 L600.2 439.3 L600.5 440.3 L600.8 441.3 L601.1 442.3 L601.4 443.3 L601.6 444.3 L601.9 445.3 L602.2 446.3 L602.4 447.3 L602.6 448.3 L602.8 449.3 L603.0 450.3 L603.2 451.3 L603.3 452.3 L603.5 453.3 L603.6 454.3 L603.7 455.3 L603.8 456.3 L604.0 457.3 L604.1 458.3 L604.2 459.3 L604.3 460.3 L604.4 461.3 L604.6 462.3 L604.7 463.3 L604.9 464.3 L605.1 465.3 L605.3 466.3 L605.5 467.3 L605.7 468.3 L606.0 469.3 L606.2 470.3 L606.5 471.3 L606.7 472.3 L607.0 473.3 L607.2 474.3 L607.5 475.3 L607.8 476.3 L608.1 477.3 L608.5 478.3 L608.9 479.3 L609.3 480.3 L609.6 481.3 L610.0 482.3 L610.2 483.3 L610.4 484.3 L610.5 485.3 L610.5 486.3 L610.5 487.3 L610.5 488.3 L610.5 489.3 L610.5 490.3 L610.5 491.3 L610.5 492.3 L610.5 493.3 L610.5 494.3 L610.5 495.3 L610.4 496.3 L610.2 497.3 L609.9 498.3 L609.6 499.3 L609.2 500.3 L608.9 501.3 L608.4 502.3 L608.0 503.3 L607.6 504.3 L607.2 505.3 L606.7 506.3 L606.2 507.3 L605.6 508.3 L605.0 509.3 L604.3 510.3 L603.7 511.3 L603.0 512.3 L602.3 513.3 L601.6 514.3 L600.9 515.3 L600.3 516.3 L599.5 517.3 L598.8 518.3 L598.0 519.3 L597.2 520.3 L596.4 521.3 L595.6 522.3 L594.9 523.3 L594.2 524.3 L593.5 525.3 L593.0 526.3 L592.4 527.3 L591.9 528.3 L591.4 529.3 L590.9 530.3 L590.4 531.3 L589.9 532.3 L589.5 533.3 L589.0 534.3 L588.6 535.3 L588.1 536.3 L587.6 537.3 L587.1 538.3 L586.7 539.3 L586.4 540.3 L586.1 541.3 L586.0 542.3 L585.8 543.3 L585.7 544.3 L585.6 545.3 L585.5 546.3 L585.4 547.3 L585.3 548.3 L585.2 549.3 L585.1 550.3 L585.0 551.3 L584.9 552.3 L584.8 553.3 L584.7 554.3 L584.6 555.3 L584.5 556.3 L584.4 557.3 L584.3 558.3 L584.3 559.3 L584.2 560.3 L584.2 561.3 L584.2 562.3 L584.2 563.3 L584.3 564.3 L584.3 565.3 L584.4 566.3 L584.4 567.3 L584.5 568.3 L584.5 569.3 L584.6 570.3 L584.6 571.3 L584.6 572.3 L584.6 573.3 L584.5 574.3 L584.4 575.3 L584.3 576.3 L584.2 577.3 L584.1 578.3 L584.0 579.3 L583.9 580.3 L583.8 581.3 L583.7 582.3 L583.6 583.3 L583.5 584.3 L583.4 585.3 L583.3 586.3 L583.2 587.3 L583.1 588.3 L583.0 589.3 L583.0 590.3 L582.9 591.3 L582.9 592.3 L582.9 593.3 L582.9 594.3 L582.8 595.3 L582.8 596.3 L582.8 597.3 L582.8 598.3 L582.8 599.3 L582.7 600.3 L582.7 601.3 L582.7 602.3 L582.7 603.3 L582.7 604.3 L582.7 605.3 L582.6 606.3 L582.6 607.3 L582.6 608.3 L582.6 609.3 L582.6 610.3 L582.6 611.3 L582.6 612.3 L582.6 613.3 L582.6 614.3 L582.5 615.3 L582.5 616.3 L582.5 617.3 L582.5 618.3 L582.5 619.3 L582.5 620.3 L582.5 621.3 L582.5 622.3 L582.5 623.3 L582.5 624.3 L582.5 625.3 L582.5 626.3 L582.5 627.3 L582.5 627.6 L582.5 627.6 L582.5 189.3Z" fill="#407291" fill-opacity="0.4" stroke="none"/>
<path d="M582.5 189.3 L582.5 190.3 L582.5 191.3 L582.5 192.3 L582.5 193.3 L582.5 194.3 L582.5 195.3 L582.6 196.3 L582.6 197.3 L582.6 198.3 L582.6 199.3 L582.6 200.3 L582.6 201.3 L582.6 202.3 L582.6 203.3 L582.6 204.3 L582.6 205.3 L582.6 206.3 L582.6 207.3 L582.6 208.3 L582.7 209.3 L582.7 210.3 L582.7 211.3 L582.7 212.3 L582.7 213.3 L582.7 214.3 L582.7 215.3 L582.7 216.3 L582.7 217.3 L582.7 218.3 L582.7 219.3 L582.7 220.3 L582.7 221.3 L582.7 222.3 L582.8 223.3 L582.8 224.3 L582.8 225.3 L582.8 226.3 L582.8 227.3 L582.8 228.3 L582.8 229.3 L582.8 230.3 L582.8 231.3 L582.8 232.3 L582.8 233.3 L582.8 234.3 L582.8 235.3 L582.8 236.3 L582.8 237.3 L582.9 238.3 L582.9 239.3 L582.9 240.3 L582.9 241.3 L582.9 242.3 L582.9 243.3 L582.9 244.3 L582.9 245.3 L582.9 246.3 L582.9 247.3 L582.9 248.3 L582.9 249.3 L582.9 250.3 L582.9 251.3 L582.9 252.3 L583.0 253.3 L583.0 254.3 L583.0 255.3 L583.0 256.3 L583.0 257.3 L583.0 258.3 L583.0 259.3 L583.0 260.3 L583.0 261.3 L583.0 262.3 L583.0 263.3 L583.0 264.3 L583.0 265.3 L583.1 266.3 L583.1 267.3 L583.1 268.3 L583.1 269.3 L583.1 270.3 L583.1 271.3 L583.1 272.3 L583.1 273.3 L583.1 274.3 L583.1 275.3 L583.2 276.3 L583.2 277.3 L583.2 278.3 L583.2 279.3 L583.2 280.3 L583.2 281.3 L583.2 282.3 L583.2 283.3 L583.2 284.3 L583.2 285.3 L583.3 286.3 L583.3 287.3 L583.3 288.3 L583.3 289.3 L583.3 290.3 L583.3 291.3 L583.3 292.3 L583.3 293.3 L583.3 294.3 L583.4 295.3 L583.4 296.3 L583.4 297.3 L583.4 298.3 L583.4 299.3 L583.4 300.3 L583.4 301.3 L583.4 302.3 L583.4 303.3 L583.4 304.3 L583.5 305.3 L583.5 306.3 L583.5 307.3 L583.5 308.3 L583.5 309.3 L583.5 310.3 L583.5 311.3 L583.5 312.3 L583.5 313.3 L583.6 314.3 L583.6 315.3 L583.6 316.3 L583.6 317.3 L583.6 318.3 L583.6 319.3 L583.6 320.3 L583.6 321.3 L583.6 322.3 L583.7 323.3 L583.7 324.3 L583.7 325.3 L583.7 326.3 L583.7 327.3 L583.7 328.3 L583.7 329.3 L583.7 330.3 L583.7 331.3 L583.7 332.3 L583.7 333.3 L583.7 334.3 L583.7 335.3 L583.7 336.3 L583.7 337.3 L583.7 338.3 L583.7 339.3 L583.7 340.3 L583.7 341.3 L583.7 342.3 L583.7 343.3 L583.7 344.3 L583.7 345.3 L583.7 346.3 L583.8 347.3 L583.8 348.3 L583.8 349.3 L583.8 350.3 L583.8 351.3 L583.8 352.3 L583.8 353.3 L583.8 354.3 L583.8 355.3 L583.8 356.3 L583.8 357.3 L583.8 358.3 L583.8 359.3 L583.8 360.3 L583.8 361.3 L583.8 362.3 L583.8 363.3 L583.8 364.3 L583.9 365.3 L583.9 366.3 L583.9 367.3 L583.9 368.3 L583.9 369.3 L584.0 370.3 L584.0 371.3 L584.0 372.3 L584.0 373.3 L584.1 374.3 L584.1 375.3 L584.1 376.3 L584.1 377.3 L584.2 378.3 L584.2 379.3 L584.2 380.3 L584.2 381.3 L584.2 382.3 L584.3 383.3 L584.3 384.3 L584.3 385.3 L584.3 386.3 L584.3 387.3 L584.4 388.3 L584.4 389.3 L584.4 390.3 L584.4 391.3 L584.5 392.3 L584.5 393.3 L584.5 394.3 L584.6 395.3 L584.6 396.3 L584.6 397.3 L584.7 398.3 L584.7 399.3 L584.8 400.3 L585.0 401.3 L585.1 402.3 L585.3 403.3 L585.5 404.3 L585.8 405.3 L586.0 406.3 L586.3 407.3 L586.6 408.3 L586.9 409.3 L587.3 410.3 L587.6 411.3 L587.9 412.3 L588.3 413.3 L588.6 414.3 L589.0 415.3 L589.3 416.3 L589.7 417.3 L590.1 418.3 L590.5 419.3 L591.0 420.3 L591.4 421.3 L591.9 422.3 L592.5 423.3 L593.0 424.3 L593.6 425.3 L594.1 426.3 L594.8 427.3 L595.4 428.3 L596.1 429.3 L596.8 430.3 L597.6 431.3 L598.5 432.3 L599.5 433.3 L600.5 434.3 L601.5 435.3 L602.6 436.3 L603.7 437.3 L604.8 438.3 L606.0 439.3 L607.1 440.3 L608.1 441.3 L609.2 442.3 L610.4 443.3 L611.5 444.3 L612.7 445.3 L613.9 446.3 L615.0 447.3 L616.1 448.3 L617.2 449.3 L618.4 450.3 L619.6 451.3 L620.8 452.3 L621.8 453.3 L622.6 454.3 L623.1 455.3 L623.4 456.3 L623.7 457.3 L624.0 458.3 L624.1 459.3 L624.0 460.3 L623.7 461.3 L623.2 462.3 L622.5 463.3 L621.7 464.3 L620.8 465.3 L619.5 466.3 L617.3 467.3 L614.6 468.3 L612.0 469.3 L609.8 470.3 L607.9 471.3 L605.9 472.3 L604.0 473.3 L602.4 474.3 L601.2 475.3 L600.4 476.3 L599.8 477.3 L599.2 478.3 L598.7 479.3 L598.3 480.3 L598.0 481.3 L597.8 482.3 L597.8 483.3 L597.9 484.3 L598.0 485.3 L598.1 486.3 L598.2 487.3 L598.4 488.3 L598.5 489.3 L598.7 490.3 L598.8 491.3 L598.8 492.3 L598.8 493.3 L598.7 494.3 L598.5 495.3 L598.2 496.3 L598.0 497.3 L597.6 498.3 L597.3 499.3 L596.9 500.3 L596.6 501.3 L596.2 502.3 L595.7 503.3 L595.1 504.3 L594.5 505.3 L593.7 506.3 L593.0 507.3 L592.2 508.3 L591.5 509.3 L590.7 510.3 L590.1 511.3 L589.5 512.3 L589.0 513.3 L588.6 514.3 L588.2 515.3 L587.8 516.3 L587.4 517.3 L587.0 518.3 L586.7 519.3 L586.4 520.3 L586.1 521.3 L585.9 522.3 L585.7 523.3 L585.5 524.3 L585.4 525.3 L585.3 526.3 L585.2 527.3 L585.2 528.3 L585.1 529.3 L585.0 530.3 L585.0 531.3 L584.9 532.3 L584.9 533.3 L584.8 534.3 L584.8 535.3 L584.8 536.3 L584.7 537.3 L584.7 538.3 L584.7 539.3 L584.7 540.3 L584.8 541.3 L585.1 542.3 L585.5 543.3 L585.9 544.3 L586.4 545.3 L586.9 546.3 L587.4 547.3 L587.8 548.3 L588.2 549.3 L588.4 550.3 L588.5 551.3 L588.5 552.3 L588.5 553.3 L588.5 554.3 L588.4 555.3 L588.4 556.3 L588.4 557.3 L588.3 558.3 L588.3 559.3 L588.3 560.3 L588.2 561.3 L588.2 562.3 L588.1 563.3 L588.0 564.3 L588.0 565.3 L587.9 566.3 L587.8 567.3 L587.7 568.3 L587.6 569.3 L587.5 570.3 L587.5 571.3 L587.4 572.3 L587.3 573.3 L587.2 574.3 L587.1 575.3 L587.0 576.3 L586.9 577.3 L586.8 578.3 L586.7 579.3 L586.5 580.3 L586.4 581.3 L586.3 582.3 L586.2 583.3 L586.1 584.3 L586.0 585.3 L585.8 586.3 L585.7 587.3 L585.6 588.3 L585.5 589.3 L585.3 590.3 L585.2 591.3 L585.0 592.3 L584.9 593.3 L584.7 594.3 L584.6 595.3 L584.5 596.3 L584.3 597.3 L584.2 598.3 L584.1 599.3 L584.0 600.3 L583.9 601.3 L583.8 602.3 L583.7 603.3 L583.6 604.3 L583.5 605.3 L583.5 606.3 L583.4 607.3 L583.3 608.3 L583.2 609.3 L583.2 610.3 L583.1 611.3 L583.0 612.3 L583.0 613.3 L582.9 614.3 L582.9 615.3 L582.8 616.3 L582.8 617.3 L582.8 618.3 L582.7 619.3 L582.7 620.3 L582.6 621.3 L582.6 622.3 L582.6 623.3 L582.6 624.3 L582.5 625.3 L582.5 626.3 L582.5 627.3 L582.5 627.6 L582.5 627.6 L582.5 189.3Z" fill="#a6d691" fill-opacity="0.4" stroke="none"/>
<path d="M582.5 189.3 L582.5 190.3 L582.5 191.3 L582.5 192.3 L582.5 193.3 L582.5 194.3 L582.5 195.3 L582.5 196.3 L582.5 197.3 L582.5 198.3 L582.5 199.3 L582.5 200.3 L582.5 201.3 L582.5 202.3 L582.5 203.3 L582.5 204.3 L582.5 205.3 L582.5 206.3 L582.5 207.3 L582.5 208.3 L582.5 209.3 L582.5 210.3 L582.5 211.3 L582.5 212.3 L582.5 213.3 L582.5 214.3 L582.5 215.3 L582.5 216.3 L582.5 217.3 L582.5 218.3 L582.5 219.3 L582.5 220.3 L582.5 221.3 L582.5 222.3 L582.5 223.3 L582.5 224.3 L582.5 225.3 L582.5 226.3 L582.5 227.3 L582.5 228.3 L582.5 229.3 L582.5 230.3 L582.5 231.3 L582.5 232.3 L582.5 233.3 L582.5 234.3 L582.5 235.3 L582.5 236.3 L582.5 237.3 L582.5 238.3 L582.5 239.3 L582.5 240.3 L582.5 241.3 L582.5 242.3 L582.5 243.3 L582.5 244.3 L582.5 245.3 L582.5 246.3 L582.5 247.3 L582.5 248.3 L582.5 249.3 L582.5 250.3 L582.5 251.3 L582.5 252.3 L582.5 253.3 L582.5 254.3 L582.5 255.3 L582.5 256.3 L582.5 257.3 L582.5 258.3 L582.5 259.3 L582.5 260.3 L582.5 261.3 L582.5 262.3 L582.5 263.3 L582.5 264.3 L582.5 265.3 L582.5 266.3 L582.5 267.3 L582.5 268.3 L582.5 269.3 L582.5 270.3 L582.5 271.3 L582.5 272.3 L582.5 273.3 L582.5 274.3 L582.5 275.3 L582.5 276.3 L582.5 277.3 L582.5 278.3 L582.5 279.3 L582.5 280.3 L582.5 281.3 L582.5 282.3 L582.5 283.3 L582.5 284.3 L582.5 285.3 L582.5 286.3 L582.5 287.3 L582.5 288.3 L582.5 289.3 L582.5 290.3 L582.5 291.3 L582.5 292.3 L582.5 293.3 L582.5 294.3 L582.5 295.3 L582.5 296.3 L582.5 297.3 L582.5 298.3 L582.5 299.3 L582.5 300.3 L582.5 301.3 L582.5 302.3 L582.5 303.3 L582.5 304.3 L582.5 305.3 L582.5 306.3 L582.5 307.3 L582.5 308.3 L582.5 309.3 L582.5 310.3 L582.5 311.3 L582.5 312.3 L582.5 313.3 L582.5 314.3 L582.5 315.3 L582.5 316.3 L582.5 317.3 L582.5 318.3 L582.5 319.3 L582.5 320.3 L582.5 321.3 L582.5 322.3 L582.5 323.3 L582.5 324.3 L582.5 325.3 L582.5 326.3 L582.5 327.3 L582.5 328.3 L582.5 329.3 L582.5 330.3 L582.5 331.3 L582.5 332.3 L582.5 333.3 L582.5 334.3 L582.5 335.3 L582.5 336.3 L582.5 337.3 L582.5 338.3 L582.5 339.3 L582.5 340.3 L582.5 341.3 L582.5 342.3 L582.5 343.3 L582.5 344.3 L582.5 345.3 L582.5 346.3 L582.6 347.3 L582.6 348.3 L582.6 349.3 L582.6 350.3 L582.6 351.3 L582.6 352.3 L582.6 353.3 L582.6 354.3 L582.6 355.3 L582.6 356.3 L582.6 357.3 L582.6 358.3 L582.6 359.3 L582.6 360.3 L582.6 361.3 L582.6 362.3 L582.6 363.3 L582.6 364.3 L582.6 365.3 L582.6 366.3 L582.6 367.3 L582.6 368.3 L582.6 369.3 L582.6 370.3 L582.6 371.3 L582.6 372.3 L582.6 373.3 L582.6 374.3 L582.6 375.3 L582.6 376.3 L582.6 377.3 L582.6 378.3 L582.6 379.3 L582.6 380.3 L582.6 381.3 L582.6 382.3 L582.6 383.3 L582.6 384.3 L582.6 385.3 L582.6 386.3 L582.6 387.3 L582.6 388.3 L582.6 389.3 L582.6 390.3 L582.6 391.3 L582.7 392.3 L582.8 393.3 L583.0 394.3 L583.1 395.3 L583.2 396.3 L583.4 397.3 L583.7 398.3 L584.1 399.3 L584.7 400.3 L585.7 401.3 L586.7 402.3 L588.2 403.3 L590.1 404.3 L592.3 405.3 L594.6 406.3 L596.8 407.3 L598.7 408.3 L600.6 409.3 L602.5 410.3 L604.4 411.3 L606.0 412.3 L607.2 413.3 L607.8 414.3 L608.3 415.3 L608.6 416.3 L608.8 417.3 L608.6 418.3 L607.8 419.3 L606.6 420.3 L605.3 421.3 L604.0 422.3 L603.0 423.3 L602.1 424.3 L601.3 425.3 L600.7 426.3 L600.7 427.3 L601.8 428.3 L603.6 429.3 L605.9 430.3 L608.6 431.3 L612.9 432.3 L618.8 433.3 L625.9 434.3 L633.5 435.3 L641.3 436.3 L651.0 437.3 L661.8 438.3 L670.8 439.3 L676.1 440.3 L679.6 441.3 L678.8 442.3 L675.0 443.3 L669.8 444.3 L661.5 445.3 L651.5 446.3 L641.4 447.3 L630.9 448.3 L620.5 449.3 L614.4 450.3 L610.1 451.3 L608.8 452.3 L609.8 453.3 L611.6 454.3 L613.4 455.3 L614.9 456.3 L616.5 457.3 L617.7 458.3 L618.2 459.3 L617.6 460.3 L616.4 461.3 L614.9 462.3 L612.6 463.3 L609.2 464.3 L605.6 465.3 L602.8 466.3 L600.4 467.3 L598.2 468.3 L596.2 469.3 L594.6 470.3 L593.6 471.3 L593.0 472.3 L592.5 473.3 L592.0 474.3 L591.7 475.3 L591.3 476.3 L591.0 477.3 L590.8 478.3 L590.5 479.3 L590.2 480.3 L589.9 481.3 L589.7 482.3 L589.4 483.3 L589.2 484.3 L589.0 485.3 L588.8 486.3 L588.5 487.3 L588.3 488.3 L588.0 489.3 L587.7 490.3 L587.4 491.3 L586.9 492.3 L586.4 493.3 L585.9 494.3 L585.3 495.3 L584.8 496.3 L584.4 497.3 L584.1 498.3 L583.8 499.3 L583.7 500.3 L583.5 501.3 L583.4 502.3 L583.2 503.3 L583.1 504.3 L583.0 505.3 L582.9 506.3 L582.8 507.3 L582.8 508.3 L582.7 509.3 L582.7 510.3 L582.7 511.3 L582.7 512.3 L582.7 513.3 L582.8 514.3 L582.8 515.3 L582.8 516.3 L582.9 517.3 L582.9 518.3 L583.0 519.3 L583.0 520.3 L583.1 521.3 L583.1 522.3 L583.2 523.3 L583.2 524.3 L583.3 525.3 L583.4 526.3 L583.4 527.3 L583.4 528.3 L583.5 529.3 L583.5 530.3 L583.5 531.3 L583.5 532.3 L583.4 533.3 L583.4 534.3 L583.4 535.3 L583.3 536.3 L583.3 537.3 L583.2 538.3 L583.2 539.3 L583.2 540.3 L583.3 541.3 L583.4 542.3 L583.5 543.3 L583.7 544.3 L583.9 545.3 L584.1 546.3 L584.3 547.3 L584.5 548.3 L584.7 549.3 L584.8 550.3 L584.8 551.3 L584.8 552.3 L584.6 553.3 L584.4 554.3 L584.2 555.3 L584.0 556.3 L583.8 557.3 L583.7 558.3 L583.5 559.3 L583.4 560.3 L583.2 561.3 L583.1 562.3 L583.0 563.3 L582.9 564.3 L582.8 565.3 L582.8 566.3 L582.8 567.3 L582.7 568.3 L582.7 569.3 L582.7 570.3 L582.7 571.3 L582.7 572.3 L582.7 573.3 L582.6 574.3 L582.6 575.3 L582.6 576.3 L582.6 577.3 L582.6 578.3 L582.6 579.3 L582.6 580.3 L582.6 581.3 L582.6 582.3 L582.6 583.3 L582.6 584.3 L582.6 585.3 L582.6 586.3 L582.6 587.3 L582.6 588.3 L582.6 589.3 L582.6 590.3 L582.6 591.3 L582.6 592.3 L582.6 593.3 L582.5 594.3 L582.5 595.3 L582.5 596.3 L582.5 597.3 L582.5 598.3 L582.5 599.3 L582.5 600.3 L582.5 601.3 L582.5 602.3 L582.5 603.3 L582.5 604.3 L582.5 605.3 L582.5 606.3 L582.5 607.3 L582.5 608.3 L582.5 609.3 L582.5 610.3 L582.5 611.3 L582.5 612.3 L582.5 613.3 L582.5 614.3 L582.5 615.3 L582.5 616.3 L582.5 617.3 L582.5 618.3 L582.5 619.3 L582.5 620.3 L582.5 621.3 L582.5 622.3 L582.5 623.3 L582.5 624.3 L582.5 625.3 L582.5 626.3 L582.5 627.3 L582.5 627.6 L582.5 627.6 L582.5 189.3Z" fill="#e96e78" fill-opacity="0.4" stroke="none"/>
<path d="M582.5 189.3 L582.5 190.3 L582.5 191.3 L582.5 192.3 L582.5 193.3 L582.5 194.3 L582.5 195.3 L582.5 196.3 L582.5 197.3 L582.5 198.3 L582.5 199.3 L582.5 200.3 L582.5 201.3 L582.5 202.3 L582.5 203.3 L582.5 204.3 L582.6 205.3 L582.6 206.3 L582.6 207.3 L582.6 208.3 L582.6 209.3 L582.6 210.3 L582.6 211.3 L582.6 212.3 L582.6 213.3 L582.6 214.3 L582.7 215.3 L582.7 216.3 L582.8 217.3 L582.8 218.3 L582.9 219.3 L583.0 220.3 L583.0 221.3 L583.1 222.3 L583.1 223.3 L583.2 224.3 L583.3 225.3 L583.3 226.3 L583.4 227.3 L583.4 228.3 L583.5 229.3 L583.5 230.3 L583.6 231.3 L583.6 232.3 L583.7 233.3 L583.7 234.3 L583.8 235.3 L583.8 236.3 L583.8 237.3 L583.9 238.3 L583.9 239.3 L583.9 240.3 L584.0 241.3 L584.0 242.3 L584.0 243.3 L584.0 244.3 L584.0 245.3 L584.0 246.3 L584.0 247.3 L583.9 248.3 L583.9 249.3 L583.9 250.3 L583.8 251.3 L583.8 252.3 L583.7 253.3 L583.7 254.3 L583.6 255.3 L583.6 256.3 L583.5 257.3 L583.5 258.3 L583.4 259.3 L583.4 260.3 L583.3 261.3 L583.3 262.3 L583.3 263.3 L583.2 264.3 L583.2 265.3 L583.1 266.3 L583.1 267.3 L583.0 268.3 L583.0 269.3 L582.9 270.3 L582.9 271.3 L582.9 272.3 L582.8 273.3 L582.8 274.3 L582.8 275.3 L582.8 276.3 L582.8 277.3 L582.8 278.3 L582.8 279.3 L582.8 280.3 L582.8 281.3 L582.9 282.3 L582.9 283.3 L582.9 284.3 L582.9 285.3 L582.9 286.3 L583.0 287.3 L583.0 288.3 L583.0 289.3 L583.1 290.3 L583.1 291.3 L583.2 292.3 L583.3 293.3 L583.4 294.3 L583.5 295.3 L583.7 296.3 L583.8 297.3 L583.9 298.3 L584.1 299.3 L584.2 300.3 L584.4 301.3 L584.6 302.3 L584.9 303.3 L585.1 304.3 L585.4 305.3 L585.6 306.3 L585.9 307.3 L586.1 308.3 L586.4 309.3 L586.6 310.3 L586.8 311.3 L587.0 312.3 L587.2 313.3 L587.5 314.3 L587.7 315.3 L587.9 316.3 L588.1 317.3 L588.2 318.3 L588.3 319.3 L588.4 320.3 L588.4 321.3 L588.4 322.3 L588.3 323.3 L588.2 324.3 L588.1 325.3 L588.0 326.3 L587.9 327.3 L587.8 328.3 L587.6 329.3 L587.5 330.3 L587.3 331.3 L587.2 332.3 L587.0 333.3 L586.8 334.3 L586.5 335.3 L586.3 336.3 L586.0 337.3 L585.7 338.3 L585.5 339.3 L585.2 340.3 L584.9 341.3 L584.7 342.3 L584.5 343.3 L584.3 344.3 L584.2 345.3 L584.0 346.3 L583.9 347.3 L583.8 348.3 L583.6 349.3 L583.5 350.3 L583.5 351.3 L583.4 352.3 L583.4 353.3 L583.3 354.3 L583.3 355.3 L583.3 356.3 L583.2 357.3 L583.2 358.3 L583.2 359.3 L583.1 360.3 L583.1 361.3 L583.1 362.3 L583.1 363.3 L583.0 364.3 L583.0 365.3 L583.0 366.3 L583.0 367.3 L583.0 368.3 L583.0 369.3 L583.0 370.3 L583.0 371.3 L583.0 372.3 L583.0 373.3 L583.0 374.3 L583.0 375.3 L583.0 376.3 L583.0 377.3 L583.0 378.3 L583.0 379.3 L583.0 380.3 L583.0 381.3 L583.0 382.3 L583.0 383.3 L583.0 384.3 L583.0 385.3 L583.0 386.3 L583.0 387.3 L583.1 388.3 L583.1 389.3 L583.1 390.3 L583.1 391.3 L583.1 392.3 L583.1 393.3 L583.1 394.3 L583.2 395.3 L583.2 396.3 L583.4 397.3 L583.5 398.3 L583.7 399.3 L584.0 400.3 L584.2 401.3 L584.5 402.3 L584.7 403.3 L585.0 404.3 L585.3 405.3 L585.5 406.3 L585.8 407.3 L586.2 408.3 L586.5 409.3 L586.9 410.3 L587.4 411.3 L587.8 412.3 L588.2 413.3 L588.7 414.3 L589.2 415.3 L589.7 416.3 L590.1 417.3 L590.6 418.3 L591.1 419.3 L591.5 420.3 L592.0 421.3 L592.5 422.3 L593.0 423.3 L593.6 424.3 L594.1 425.3 L594.7 426.3 L595.2 427.3 L595.7 428.3 L596.2 429.3 L596.7 430.3 L597.2 431.3 L597.7 432.3 L598.1 433.3 L598.4 434.3 L598.8 435.3 L599.2 436.3 L599.5 437.3 L599.8 438.3 L600.2 439.3 L600.5 440.3 L600.8 441.3 L601.1 442.3 L601.4 443.3 L601.6 444.3 L601.9 445.3 L602.2 446.3 L602.4 447.3 L602.6 448.3 L602.8 449.3 L603.0 450.3 L603.2 451.3 L603.3 452.3 L603.5 453.3 L603.6 454.3 L603.7 455.3 L603.8 456.3 L604.0 457.3 L604.1 458.3 L604.2 459.3 L604.3 460.3 L604.4 461.3 L604.6 462.3 L604.7 463.3 L604.9 464.3 L605.1 465.3 L605.3 466.3 L605.5 467.3 L605.7 468.3 L606.0 469.3 L606.2 470.3 L606.5 471.3 L606.7 472.3 L607.0 473.3 L607.2 474.3 L607.5 475.3 L607.8 476.3 L608.1 477.3 L608.5 478.3 L608.9 479.3 L609.3 480.3 L609.6 481.3 L610.0 482.3 L610.2 483.3 L610.4 484.3 L610.5 485.3 L610.5 486.3 L610.5 487.3 L610.5 488.3 L610.5 489.3 L610.5 490.3 L610.5 491.3 L610.5 492.3 L610.5 493.3 L610.5 494.3 L610.5 495.3 L610.4 496.3 L610.2 497.3 L609.9 498.3 L609.6 499.3 L609.2 500.3 L608.9 501.3 L608.4 502.3 L608.0 503.3 L607.6 504.3 L607.2 505.3 L606.7 506.3 L606.2 507.3 L605.6 508.3 L605.0 509.3 L604.3 510.3 L603.7 511.3 L603.0 512.3 L602.3 513.3 L601.6 514.3 L600.9 515.3 L600.3 516.3 L599.5 517.3 L598.8 518.3 L598.0 519.3 L597.2 520.3 L596.4 521.3 L595.6 522.3 L594.9 523.3 L594.2 524.3 L593.5 525.3 L593.0 526.3 L592.4 527.3 L591.9 528.3 L591.4 529.3 L590.9 530.3 L590.4 531.3 L589.9 532.3 L589.5 533.3 L589.0 534.3 L588.6 535.3 L588.1 536.3 L587.6 537.3 L587.1 538.3 L586.7 539.3 L586.4 540.3 L586.1 541.3 L586.0 542.3 L585.8 543.3 L585.7 544.3 L585.6 545.3 L585.5 546.3 L585.4 547.3 L585.3 548.3 L585.2 549.3 L585.1 550.3 L585.0 551.3 L584.9 552.3 L584.8 553.3 L584.7 554.3 L584.6 555.3 L584.5 556.3 L584.4 557.3 L584.3 558.3 L584.3 559.3 L584.2 560.3 L584.2 561.3 L584.2 562.3 L584.2 563.3 L584.3 564.3 L584.3 565.3 L584.4 566.3 L584.4 567.3 L584.5 568.3 L584.5 569.3 L584.6 570.3 L584.6 571.3 L584.6 572.3 L584.6 573.3 L584.5 574.3 L584.4 575.3 L584.3 576.3 L584.2 577.3 L584.1 578.3 L584.0 579.3 L583.9 580.3 L583.8 581.3 L583.7 582.3 L583.6 583.3 L583.5 584.3 L583.4 585.3 L583.3 586.3 L583.2 587.3 L583.1 588.3 L583.0 589.3 L583.0 590.3 L582.9 591.3 L582.9 592.3 L582.9 593.3 L582.9 594.3 L582.8 595.3 L582.8 596.3 L582.8 597.3 L582.8 598.3 L582.8 599.3 L582.7 600.3 L582.7 601.3 L582.7 602.3 L582.7 603.3 L582.7 604.3 L582.7 605.3 L582.6 606.3 L582.6 607.3 L582.6 608.3 L582.6 609.3 L582.6 610.3 L582.6 611.3 L582.6 612.3 L582.6 613.3 L582.6 614.3 L582.5 615.3 L582.5 616.3 L582.5 617.3 L582.5 618.3 L582.5 619.3 L582.5 620.3 L582.5 621.3 L582.5 622.3 L582.5 623.3 L582.5 624.3 L582.5 625.3 L582.5 626.3 L582.5 627.3 L582.5 627.6" fill="none" stroke="#407291" stroke-width="1.0"/>
<path d="M582.5 189.3 L582.5 190.3 L582.5 191.3 L582.5 192.3 L582.5 193.3 L582.5 194.3 L582.5 195.3 L582.6 196.3 L582.6 197.3 L582.6 198.3 L582.6 199.3 L582.6 200.3 L582.6 201.3 L582.6 202.3 L582.6 203.3 L582.6 204.3 L582.6 205.3 L582.6 206.3 L582.6 207.3 L582.6 208.3 L582.7 209.3 L582.7 210.3 L582.7 211.3 L582.7 212.3 L582.7 213.3 L582.7 214.3 L582.7 215.3 L582.7 216.3 L582.7 217.3 L582.7 218.3 L582.7 219.3 L582.7 220.3 L582.7 221.3 L582.7 222.3 L582.8 223.3 L582.8 224.3 L582.8 225.3 L582.8 226.3 L582.8 227.3 L582.8 228.3 L582.8 229.3 L582.8 230.3 L582.8 231.3 L582.8 232.3 L582.8 233.3 L582.8 234.3 L582.8 235.3 L582.8 236.3 L582.8 237.3 L582.9 238.3 L582.9 239.3 L582.9 240.3 L582.9 241.3 L582.9 242.3 L582.9 243.3 L582.9 244.3 L582.9 245.3 L582.9 246.3 L582.9 247.3 L582.9 248.3 L582.9 249.3 L582.9 250.3 L582.9 251.3 L582.9 252.3 L583.0 253.3 L583.0 254.3 L583.0 255.3 L583.0 256.3 L583.0 257.3 L583.0 258.3 L583.0 259.3 L583.0 260.3 L583.0 261.3 L583.0 262.3 L583.0 263.3 L583.0 264.3 L583.0 265.3 L583.1 266.3 L583.1 267.3 L583.1 268.3 L583.1 269.3 L583.1 270.3 L583.1 271.3 L583.1 272.3 L583.1 273.3 L583.1 274.3 L583.1 275.3 L583.2 276.3 L583.2 277.3 L583.2 278.3 L583.2 279.3 L583.2 280.3 L583.2 281.3 L583.2 282.3 L583.2 283.3 L583.2 284.3 L583.2 285.3 L583.3 286.3 L583.3 287.3 L583.3 288.3 L583.3 289.3 L583.3 290.3 L583.3 291.3 L583.3 292.3 L583.3 293.3 L583.3 294.3 L583.4 295.3 L583.4 296.3 L583.4 297.3 L583.4 298.3 L583.4 299.3 L583.4 300.3 L583.4 301.3 L583.4 302.3 L583.4 303.3 L583.4 304.3 L583.5 305.3 L583.5 306.3 L583.5 307.3 L583.5 308.3 L583.5 309.3 L583.5 310.3 L583.5 311.3 L583.5 312.3 L583.5 313.3 L583.6 314.3 L583.6 315.3 L583.6 316.3 L583.6 317.3 L583.6 318.3 L583.6 319.3 L583.6 320.3 L583.6 321.3 L583.6 322.3 L583.7 323.3 L583.7 324.3 L583.7 325.3 L583.7 326.3 L583.7 327.3 L583.7 328.3 L583.7 329.3 L583.7 330.3 L583.7 331.3 L583.7 332.3 L583.7 333.3 L583.7 334.3 L583.7 335.3 L583.7 336.3 L583.7 337.3 L583.7 338.3 L583.7 339.3 L583.7 340.3 L583.7 341.3 L583.7 342.3 L583.7 343.3 L583.7 344.3 L583.7 345.3 L583.7 346.3 L583.8 347.3 L583.8 348.3 L583.8 349.3 L583.8 350.3 L583.8 351.3 L583.8 352.3 L583.8 353.3 L583.8 354.3 L583.8 355.3 L583.8 356.3 L583.8 357.3 L583.8 358.3 L583.8 359.3 L583.8 360.3 L583.8 361.3 L583.8 362.3 L583.8 363.3 L583.8 364.3 L583.9 365.3 L583.9 366.3 L583.9 367.3 L583.9 368.3 L583.9 369.3 L584.0 370.3 L584.0 371.3 L584.0 372.3 L584.0 373.3 L584.1 374.3 L584.1 375.3 L584.1 376.3 L584.1 377.3 L584.2 378.3 L584.2 379.3 L584.2 380.3 L584.2 381.3 L584.2 382.3 L584.3 383.3 L584.3 384.3 L584.3 385.3 L584.3 386.3 L584.3 387.3 L584.4 388.3 L584.4 389.3 L584.4 390.3 L584.4 391.3 L584.5 392.3 L584.5 393.3 L584.5 394.3 L584.6 395.3 L584.6 396.3 L584.6 397.3 L584.7 398.3 L584.7 399.3 L584.8 400.3 L585.0 401.3 L585.1 402.3 L585.3 403.3 L585.5 404.3 L585.8 405.3 L586.0 406.3 L586.3 407.3 L586.6 408.3 L586.9 409.3 L587.3 410.3 L587.6 411.3 L587.9 412.3 L588.3 413.3 L588.6 414.3 L589.0 415.3 L589.3 416.3 L589.7 417.3 L590.1 418.3 L590.5 419.3 L591.0 420.3 L591.4 421.3 L591.9 422.3 L592.5 423.3 L593.0 424.3 L593.6 425.3 L594.1 426.3 L594.8 427.3 L595.4 428.3 L596.1 429.3 L596.8 430.3 L597.6 431.3 L598.5 432.3 L599.5 433.3 L600.5 434.3 L601.5 435.3 L602.6 436.3 L603.7 437.3 L604.8 438.3 L606.0 439.3 L607.1 440.3 L608.1 441.3 L609.2 442.3 L610.4 443.3 L611.5 444.3 L612.7 445.3 L613.9 446.3 L615.0 447.3 L616.1 448.3 L617.2 449.3 L618.4 450.3 L619.6 451.3 L620.8 452.3 L621.8 453.3 L622.6 454.3 L623.1 455.3 L623.4 456.3 L623.7 457.3 L624.0 458.3 L624.1 459.3 L624.0 460.3 L623.7 461.3 L623.2 462.3 L622.5 463.3 L621.7 464.3 L620.8 465.3 L619.5 466.3 L617.3 467.3 L614.6 468.3 L612.0 469.3 L609.8 470.3 L607.9 471.3 L605.9 472.3 L604.0 473.3 L602.4 474.3 L601.2 475.3 L600.4 476.3 L599.8 477.3 L599.2 478.3 L598.7 479.3 L598.3 480.3 L598.0 481.3 L597.8 482.3 L597.8 483.3 L597.9 484.3 L598.0 485.3 L598.1 486.3 L598.2 487.3 L598.4 488.3 L598.5 489.3 L598.7 490.3 L598.8 491.3 L598.8 492.3 L598.8 493.3 L598.7 494.3 L598.5 495.3 L598.2 496.3 L598.0 497.3 L597.6 498.3 L597.3 499.3 L596.9 500.3 L596.6 501.3 L596.2 502.3 L595.7 503.3 L595.1 504.3 L594.5 505.3 L593.7 506.3 L593.0 507.3 L592.2 508.3 L591.5 509.3 L590.7 510.3 L590.1 511.3 L589.5 512.3 L589.0 513.3 L588.6 514.3 L588.2 515.3 L587.8 516.3 L587.4 517.3 L587.0 518.3 L586.7 519.3 L586.4 520.3 L586.1 521.3 L585.9 522.3 L585.7 523.3 L585.5 524.3 L585.4 525.3 L585.3 526.3 L585.2 527.3 L585.2 528.3 L585.1 529.3 L585.0 530.3 L585.0 531.3 L584.9 532.3 L584.9 533.3 L584.8 534.3 L584.8 535.3 L584.8 536.3 L584.7 537.3 L584.7 538.3 L584.7 539.3 L584.7 540.3 L584.8 541.3 L585.1 542.3 L585.5 543.3 L585.9 544.3 L586.4 545.3 L586.9 546.3 L587.4 547.3 L587.8 548.3 L588.2 549.3 L588.4 550.3 L588.5 551.3 L588.5 552.3 L588.5 553.3 L588.5 554.3 L588.4 555.3 L588.4 556.3 L588.4 557.3 L588.3 558.3 L588.3 559.3 L588.3 560.3 L588.2 561.3 L588.2 562.3 L588.1 563.3 L588.0 564.3 L588.0 565.3 L587.9 566.3 L587.8 567.3 L587.7 568.3 L587.6 569.3 L587.5 570.3 L587.5 571.3 L587.4 572.3 L587.3 573.3 L587.2 574.3 L587.1 575.3 L587.0 576.3 L586.9 577.3 L586.8 578.3 L586.7 579.3 L586.5 580.3 L586.4 581.3 L586.3 582.3 L586.2 583.3 L586.1 584.3 L586.0 585.3 L585.8 586.3 L585.7 587.3 L585.6 588.3 L585.5 589.3 L585.3 590.3 L585.2 591.3 L585.0 592.3 L584.9 593.3 L584.7 594.3 L584.6 595.3 L584.5 596.3 L584.3 597.3 L584.2 598.3 L584.1 599.3 L584.0 600.3 L583.9 601.3 L583.8 602.3 L583.7 603.3 L583.6 604.3 L583.5 605.3 L583.5 606.3 L583.4 607.3 L583.3 608.3 L583.2 609.3 L583.2 610.3 L583.1 611.3 L583.0 612.3 L583.0 613.3 L582.9 614.3 L582.9 615.3 L582.8 616.3 L582.8 617.3 L582.8 618.3 L582.7 619.3 L582.7 620.3 L582.6 621.3 L582.6 622.3 L582.6 623.3 L582.6 624.3 L582.5 625.3 L582.5 626.3 L582.5 627.3 L582.5 627.6" fill="none" stroke="#a6d691" stroke-width="1.0"/>
<path d="M582.5 189.3 L582.5 190.3 L582.5 191.3 L582.5 192.3 L582.5 193.3 L582.5 194.3 L582.5 195.3 L582.5 196.3 L582.5 197.3 L582.5 198.3 L582.5 199.3 L582.5 200.3 L582.5 201.3 L582.5 202.3 L582.5 203.3 L582.5 204.3 L582.5 205.3 L582.5 206.3 L582.5 207.3 L582.5 208.3 L582.5 209.3 L582.5 210.3 L582.5 211.3 L582.5 212.3 L582.5 213.3 L582.5 214.3 L582.5 215.3 L582.5 216.3 L582.5 217.3 L582.5 218.3 L582.5 219.3 L582.5 220.3 L582.5 221.3 L582.5 222.3 L582.5 223.3 L582.5 224.3 L582.5 225.3 L582.5 226.3 L582.5 227.3 L582.5 228.3 L582.5 229.3 L582.5 230.3 L582.5 231.3 L582.5 232.3 L582.5 233.3 L582.5 234.3 L582.5 235.3 L582.5 236.3 L582.5 237.3 L582.5 238.3 L582.5 239.3 L582.5 240.3 L582.5 241.3 L582.5 242.3 L582.5 243.3 L582.5 244.3 L582.5 245.3 L582.5 246.3 L582.5 247.3 L582.5 248.3 L582.5 249.3 L582.5 250.3 L582.5 251.3 L582.5 252.3 L582.5 253.3 L582.5 254.3 L582.5 255.3 L582.5 256.3 L582.5 257.3 L582.5 258.3 L582.5 259.3 L582.5 260.3 L582.5 261.3 L582.5 262.3 L582.5 263.3 L582.5 264.3 L582.5 265.3 L582.5 266.3 L582.5 267.3 L582.5 268.3 L582.5 269.3 L582.5 270.3 L582.5 271.3 L582.5 272.3 L582.5 273.3 L582.5 274.3 L582.5 275.3 L582.5 276.3 L582.5 277.3 L582.5 278.3 L582.5 279.3 L582.5 280.3 L582.5 281.3 L582.5 282.3 L582.5 283.3 L582.5 284.3 L582.5 285.3 L582.5 286.3 L582.5 287.3 L582.5 288.3 L582.5 289.3 L582.5 290.3 L582.5 291.3 L582.5 292.3 L582.5 293.3 L582.5 294.3 L582.5 295.3 L582.5 296.3 L582.5 297.3 L582.5 298.3 L582.5 299.3 L582.5 300.3 L582.5 301.3 L582.5 302.3 L582.5 303.3 L582.5 304.3 L582.5 305.3 L582.5 306.3 L582.5 307.3 L582.5 308.3 L582.5 309.3 L582.5 310.3 L582.5 311.3 L582.5 312.3 L582.5 313.3 L582.5 314.3 L582.5 315.3 L582.5 316.3 L582.5 317.3 L582.5 318.3 L582.5 319.3 L582.5 320.3 L582.5 321.3 L582.5 322.3 L582.5 323.3 L582.5 324.3 L582.5 325.3 L582.5 326.3 L582.5 327.3 L582.5 328.3 L582.5 329.3 L582.5 330.3 L582.5 331.3 L582.5 332.3 L582.5 333.3 L582.5 334.3 L582.5 335.3 L582.5 336.3 L582.5 337.3 L582.5 338.3 L582.5 339.3 L582.5 340.3 L582.5 341.3 L582.5 342.3 L582.5 343.3 L582.5 344.3 L582.5 345.3 L582.5 346.3 L582.6 347.3 L582.6 348.3 L582.6 349.3 L582.6 350.3 L582.6 351.3 L582.6 352.3 L582.6 353.3 L582.6 354.3 L582.6 355.3 L582.6 356.3 L582.6 357.3 L582.6 358.3 L582.6 359.3 L582.6 360.3 L582.6 361.3 L582.6 362.3 L582.6 363.3 L582.6 364.3 L582.6 365.3 L582.6 366.3 L582.6 367.3 L582.6 368.3 L582.6 369.3 L582.6 370.3 L582.6 371.3 L582.6 372.3 L582.6 373.3 L582.6 374.3 L582.6 375.3 L582.6 376.3 L582.6 377.3 L582.6 378.3 L582.6 379.3 L582.6 380.3 L582.6 381.3 L582.6 382.3 L582.6 383.3 L582.6 384.3 L582.6 385.3 L582.6 386.3 L582.6 387.3 L582.6 388.3 L582.6 389.3 L582.6 390.3 L582.6 391.3 L582.7 392.3 L582.8 393.3 L583.0 394.3 L583.1 395.3 L583.2 396.3 L583.4 397.3 L583.7 398.3 L584.1 399.3 L584.7 400.3 L585.7 401.3 L586.7 402.3 L588.2 403.3 L590.1 404.3 L592.3 405.3 L594.6 406.3 L596.8 407.3 L598.7 408.3 L600.6 409.3 L602.5 410.3 L604.4 411.3 L606.0 412.3 L607.2 413.3 L607.8 414.3 L608.3 415.3 L608.6 416.3 L608.8 417.3 L608.6 418.3 L607.8 419.3 L606.6 420.3 L605.3 421.3 L604.0 422.3 L603.0 423.3 L602.1 424.3 L601.3 425.3 L600.7 426.3 L600.7 427.3 L601.8 428.3 L603.6 429.3 L605.9 430.3 L608.6 431.3 L612.9 432.3 L618.8 433.3 L625.9 434.3 L633.5 435.3 L641.3 436.3 L651.0 437.3 L661.8 438.3 L670.8 439.3 L676.1 440.3 L679.6 441.3 L678.8 442.3 L675.0 443.3 L669.8 444.3 L661.5 445.3 L651.5 446.3 L641.4 447.3 L630.9 448.3 L620.5 449.3 L614.4 450.3 L610.1 451.3 L608.8 452.3 L609.8 453.3 L611.6 454.3 L613.4 455.3 L614.9 456.3 L616.5 457.3 L617.7 458.3 L618.2 459.3 L617.6 460.3 L616.4 461.3 L614.9 462.3 L612.6 463.3 L609.2 464.3 L605.6 465.3 L602.8 466.3 L600.4 467.3 L598.2 468.3 L596.2 469.3 L594.6 470.3 L593.6 471.3 L593.0 472.3 L592.5 473.3 L592.0 474.3 L591.7 475.3 L591.3 476.3 L591.0 477.3 L590.8 478.3 L590.5 479.3 L590.2 480.3 L589.9 481.3 L589.7 482.3 L589.4 483.3 L589.2 484.3 L589.0 485.3 L588.8 486.3 L588.5 487.3 L588.3 488.3 L588.0 489.3 L587.7 490.3 L587.4 491.3 L586.9 492.3 L586.4 493.3 L585.9 494.3 L585.3 495.3 L584.8 496.3 L584.4 497.3 L584.1 498.3 L583.8 499.3 L583.7 500.3 L583.5 501.3 L583.4 502.3 L583.2 503.3 L583.1 504.3 L583.0 505.3 L582.9 506.3 L582.8 507.3 L582.8 508.3 L582.7 509.3 L582.7 510.3 L582.7 511.3 L582.7 512.3 L582.7 513.3 L582.8 514.3 L582.8 515.3 L582.8 516.3 L582.9 517.3 L582.9 518.3 L583.0 519.3 L583.0 520.3 L583.1 521.3 L583.1 522.3 L583.2 523.3 L583.2 524.3 L583.3 525.3 L583.4 526.3 L583.4 527.3 L583.4 528.3 L583.5 529.3 L583.5 530.3 L583.5 531.3 L583.5 532.3 L583.4 533.3 L583.4 534.3 L583.4 535.3 L583.3 536.3 L583.3 537.3 L583.2 538.3 L583.2 539.3 L583.2 540.3 L583.3 541.3 L583.4 542.3 L583.5 543.3 L583.7 544.3 L583.9 545.3 L584.1 546.3 L584.3 547.3 L584.5 548.3 L584.7 549.3 L584.8 550.3 L584.8 551.3 L584.8 552.3 L584.6 553.3 L584.4 554.3 L584.2 555.3 L584.0 556.3 L583.8 557.3 L583.7 558.3 L583.5 559.3 L583.4 560.3 L583.2 561.3 L583.1 562.3 L583.0 563.3 L582.9 564.3 L582.8 565.3 L582.8 566.3 L582.8 567.3 L582.7 568.3 L582.7 569.3 L582.7 570.3 L582.7 571.3 L582.7 572.3 L582.7 573.3 L582.6 574.3 L582.6 575.3 L582.6 576.3 L582.6 577.3 L582.6 578.3 L582.6 579.3 L582.6 580.3 L582.6 581.3 L582.6 582.3 L582.6 583.3 L582.6 584.3 L582.6 585.3 L582.6 586.3 L582.6 587.3 L582.6 588.3 L582.6 589.3 L582.6 590.3 L582.6 591.3 L582.6 592.3 L582.6 593.3 L582.5 594.3 L582.5 595.3 L582.5 596.3 L582.5 597.3 L582.5 598.3 L582.5 599.3 L582.5 600.3 L582.5 601.3 L582.5 602.3 L582.5 603.3 L582.5 604.3 L582.5 605.3 L582.5 606.3 L582.5 607.3 L582.5 608.3 L582.5 609.3 L582.5 610.3 L582.5 611.3 L582.5 612.3 L582.5 613.3 L582.5 614.3 L582.5 615.3 L582.5 616.3 L582.5 617.3 L582.5 618.3 L582.5 619.3 L582.5 620.3 L582.5 621.3 L582.5 622.3 L582.5 623.3 L582.5 624.3 L582.5 625.3 L582.5 626.3 L582.5 627.3 L582.5 627.6" fill="none" stroke="#e96e78" stroke-width="1.0"/>
</g>
</svg></body></html>
